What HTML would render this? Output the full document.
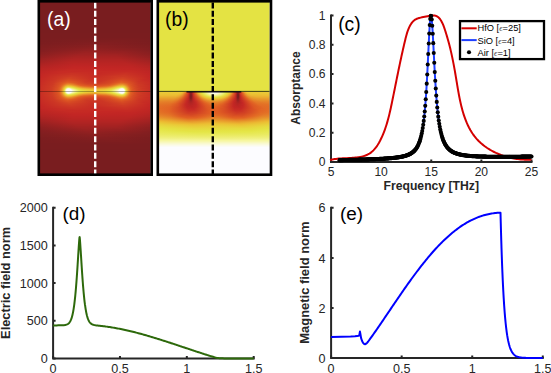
<!DOCTYPE html>
<html><head><meta charset="utf-8"><style>
html,body{margin:0;padding:0;background:#fff;}
body{width:551px;height:373px;overflow:hidden;position:relative;font-family:"Liberation Sans", sans-serif;}
</style></head><body>
<svg width="551" height="373" viewBox="0 0 551 373" style="position:absolute;left:0;top:0;font-family:'Liberation Sans', sans-serif">
<rect width="551" height="373" fill="#fff"/>
<defs><linearGradient id="ga36"><stop offset="0%" stop-color="#7a1d1f"/><stop offset="79.28%" stop-color="#7c1d1f"/><stop offset="100%" stop-color="#7a1d1f"/></linearGradient><linearGradient id="ga37"><stop offset="0%" stop-color="#7b1d1f"/><stop offset="81.08%" stop-color="#7d1d1f"/><stop offset="100%" stop-color="#7b1d1f"/></linearGradient><linearGradient id="ga38"><stop offset="0%" stop-color="#7b1d1f"/><stop offset="69.37%" stop-color="#7f1e1f"/><stop offset="100%" stop-color="#7b1d1f"/></linearGradient><linearGradient id="ga39"><stop offset="0%" stop-color="#7b1d1f"/><stop offset="67.57%" stop-color="#801e1f"/><stop offset="100%" stop-color="#7b1d1f"/></linearGradient><linearGradient id="ga40"><stop offset="0%" stop-color="#7c1d1f"/><stop offset="63.06%" stop-color="#821e20"/><stop offset="100%" stop-color="#7c1d1f"/></linearGradient><linearGradient id="ga41"><stop offset="0%" stop-color="#7c1d1f"/><stop offset="57.66%" stop-color="#841e20"/><stop offset="100%" stop-color="#7c1d1f"/></linearGradient><linearGradient id="ga42"><stop offset="0%" stop-color="#7d1d1f"/><stop offset="57.66%" stop-color="#851e20"/><stop offset="100%" stop-color="#7d1d1f"/></linearGradient><linearGradient id="ga43"><stop offset="0%" stop-color="#7e1e1f"/><stop offset="54.95%" stop-color="#881f20"/><stop offset="100%" stop-color="#7e1e1f"/></linearGradient><linearGradient id="ga44"><stop offset="0%" stop-color="#7f1e1f"/><stop offset="55.86%" stop-color="#8a1f20"/><stop offset="100%" stop-color="#7f1e1f"/></linearGradient><linearGradient id="ga45"><stop offset="0%" stop-color="#801e1f"/><stop offset="50.45%" stop-color="#8c1f20"/><stop offset="96.4%" stop-color="#811e20"/><stop offset="100%" stop-color="#801e1f"/></linearGradient><linearGradient id="ga46"><stop offset="0%" stop-color="#811e20"/><stop offset="48.65%" stop-color="#8f2020"/><stop offset="87.39%" stop-color="#861f20"/><stop offset="100%" stop-color="#811e20"/></linearGradient><linearGradient id="ga47"><stop offset="0%" stop-color="#821e20"/><stop offset="45.95%" stop-color="#922021"/><stop offset="82.88%" stop-color="#8a1f20"/><stop offset="100%" stop-color="#821e20"/></linearGradient><linearGradient id="ga48"><stop offset="0%" stop-color="#841e20"/><stop offset="45.95%" stop-color="#952021"/><stop offset="80.18%" stop-color="#8e1f20"/><stop offset="100%" stop-color="#841e20"/></linearGradient><linearGradient id="ga49"><stop offset="0%" stop-color="#851e20"/><stop offset="41.44%" stop-color="#982121"/><stop offset="73.87%" stop-color="#942021"/><stop offset="100%" stop-color="#861f20"/></linearGradient><linearGradient id="ga50"><stop offset="0%" stop-color="#881f20"/><stop offset="42.34%" stop-color="#9c2121"/><stop offset="76.58%" stop-color="#962021"/><stop offset="100%" stop-color="#881f20"/></linearGradient><linearGradient id="ga51"><stop offset="0%" stop-color="#8a1f20"/><stop offset="40.54%" stop-color="#9f2222"/><stop offset="72.97%" stop-color="#9b2121"/><stop offset="100%" stop-color="#8a1f20"/></linearGradient><linearGradient id="ga52"><stop offset="0%" stop-color="#8c1f20"/><stop offset="35.14%" stop-color="#a12222"/><stop offset="69.37%" stop-color="#a02222"/><stop offset="100%" stop-color="#8c1f20"/></linearGradient><linearGradient id="ga53"><stop offset="0%" stop-color="#8f2020"/><stop offset="33.33%" stop-color="#a42222"/><stop offset="68.47%" stop-color="#a42222"/><stop offset="100%" stop-color="#8f2020"/></linearGradient><linearGradient id="ga54"><stop offset="0%" stop-color="#922021"/><stop offset="34.23%" stop-color="#a82322"/><stop offset="69.37%" stop-color="#a72222"/><stop offset="100%" stop-color="#922021"/></linearGradient><linearGradient id="ga55"><stop offset="0%" stop-color="#952021"/><stop offset="30.63%" stop-color="#aa2322"/><stop offset="70.27%" stop-color="#aa2322"/><stop offset="100%" stop-color="#952021"/></linearGradient><linearGradient id="ga56"><stop offset="0%" stop-color="#992121"/><stop offset="31.53%" stop-color="#ae2323"/><stop offset="71.17%" stop-color="#ad2322"/><stop offset="100%" stop-color="#992121"/></linearGradient><linearGradient id="ga57"><stop offset="0%" stop-color="#9c2121"/><stop offset="28.83%" stop-color="#b02423"/><stop offset="72.07%" stop-color="#b02423"/><stop offset="100%" stop-color="#9c2121"/></linearGradient><linearGradient id="ga58"><stop offset="0%" stop-color="#a02222"/><stop offset="29.73%" stop-color="#b32423"/><stop offset="72.07%" stop-color="#b32423"/><stop offset="100%" stop-color="#a02222"/></linearGradient><linearGradient id="ga59"><stop offset="0%" stop-color="#a32222"/><stop offset="28.83%" stop-color="#b62423"/><stop offset="73.87%" stop-color="#b52423"/><stop offset="100%" stop-color="#a32222"/></linearGradient><linearGradient id="ga60"><stop offset="0%" stop-color="#a62222"/><stop offset="27.03%" stop-color="#b82523"/><stop offset="76.58%" stop-color="#b72423"/><stop offset="100%" stop-color="#a72222"/></linearGradient><linearGradient id="ga61"><stop offset="0%" stop-color="#aa2322"/><stop offset="30.63%" stop-color="#bb2523"/><stop offset="77.48%" stop-color="#b92523"/><stop offset="100%" stop-color="#aa2322"/></linearGradient><linearGradient id="ga62"><stop offset="0%" stop-color="#ad2322"/><stop offset="29.73%" stop-color="#bd2524"/><stop offset="81.08%" stop-color="#ba2523"/><stop offset="100%" stop-color="#ad2322"/></linearGradient><linearGradient id="ga63"><stop offset="0%" stop-color="#b02423"/><stop offset="29.73%" stop-color="#bf2524"/><stop offset="81.98%" stop-color="#bc2523"/><stop offset="100%" stop-color="#b02423"/></linearGradient><linearGradient id="ga64"><stop offset="0%" stop-color="#b32423"/><stop offset="30.63%" stop-color="#c12624"/><stop offset="81.98%" stop-color="#be2524"/><stop offset="100%" stop-color="#b32423"/></linearGradient><linearGradient id="ga65"><stop offset="0%" stop-color="#b62423"/><stop offset="31.53%" stop-color="#c32624"/><stop offset="81.98%" stop-color="#c02524"/><stop offset="100%" stop-color="#b62423"/></linearGradient><linearGradient id="ga66"><stop offset="0%" stop-color="#b82523"/><stop offset="29.73%" stop-color="#c42724"/><stop offset="83.78%" stop-color="#c12624"/><stop offset="100%" stop-color="#b82523"/></linearGradient><linearGradient id="ga67"><stop offset="0%" stop-color="#ba2523"/><stop offset="27.93%" stop-color="#c52924"/><stop offset="85.59%" stop-color="#c22624"/><stop offset="100%" stop-color="#ba2523"/></linearGradient><linearGradient id="ga68"><stop offset="0%" stop-color="#bc2523"/><stop offset="27.93%" stop-color="#c62b24"/><stop offset="58.56%" stop-color="#c52724"/><stop offset="80.18%" stop-color="#c52924"/><stop offset="100%" stop-color="#bc2523"/></linearGradient><linearGradient id="ga69"><stop offset="0%" stop-color="#be2524"/><stop offset="20.72%" stop-color="#c72b24"/><stop offset="37.84%" stop-color="#c62a24"/><stop offset="63.06%" stop-color="#c62a24"/><stop offset="81.98%" stop-color="#c62a24"/><stop offset="100%" stop-color="#be2524"/></linearGradient><linearGradient id="ga70"><stop offset="0%" stop-color="#bf2524"/><stop offset="17.12%" stop-color="#c72b24"/><stop offset="33.33%" stop-color="#c82e24"/><stop offset="55.86%" stop-color="#c62924"/><stop offset="78.38%" stop-color="#c82e24"/><stop offset="95.5%" stop-color="#c12624"/><stop offset="100%" stop-color="#bf2524"/></linearGradient><linearGradient id="ga71"><stop offset="0%" stop-color="#c12624"/><stop offset="14.41%" stop-color="#c62b24"/><stop offset="28.83%" stop-color="#ca3224"/><stop offset="52.25%" stop-color="#c62924"/><stop offset="77.48%" stop-color="#ca3124"/><stop offset="97.3%" stop-color="#c22624"/><stop offset="100%" stop-color="#c12624"/></linearGradient><linearGradient id="ga72"><stop offset="0%" stop-color="#c22624"/><stop offset="18.02%" stop-color="#c93024"/><stop offset="30.63%" stop-color="#cb3424"/><stop offset="52.25%" stop-color="#c62a24"/><stop offset="76.58%" stop-color="#cb3424"/><stop offset="98.2%" stop-color="#c22624"/><stop offset="100%" stop-color="#c22624"/></linearGradient><linearGradient id="ga73"><stop offset="0%" stop-color="#c32624"/><stop offset="16.22%" stop-color="#c93124"/><stop offset="27.93%" stop-color="#cd3824"/><stop offset="50.45%" stop-color="#c72b24"/><stop offset="75.68%" stop-color="#cd3824"/><stop offset="99.1%" stop-color="#c32624"/><stop offset="100%" stop-color="#c32624"/></linearGradient><linearGradient id="ga74"><stop offset="0%" stop-color="#c42624"/><stop offset="18.92%" stop-color="#cc3624"/><stop offset="28.83%" stop-color="#cf3b24"/><stop offset="49.55%" stop-color="#c72c24"/><stop offset="67.57%" stop-color="#cd3824"/><stop offset="77.48%" stop-color="#ce3a24"/><stop offset="97.3%" stop-color="#c52724"/><stop offset="100%" stop-color="#c42624"/></linearGradient><linearGradient id="ga75"><stop offset="0%" stop-color="#c42724"/><stop offset="17.12%" stop-color="#cc3624"/><stop offset="27.03%" stop-color="#d14024"/><stop offset="47.75%" stop-color="#c82e24"/><stop offset="63.06%" stop-color="#cc3524"/><stop offset="74.77%" stop-color="#d14024"/><stop offset="97.3%" stop-color="#c52824"/><stop offset="100%" stop-color="#c42724"/></linearGradient><linearGradient id="ga76"><stop offset="0%" stop-color="#c52824"/><stop offset="15.32%" stop-color="#cc3624"/><stop offset="26.13%" stop-color="#d34423"/><stop offset="47.75%" stop-color="#c92f24"/><stop offset="62.16%" stop-color="#cc3724"/><stop offset="74.77%" stop-color="#d34423"/><stop offset="97.3%" stop-color="#c62924"/><stop offset="100%" stop-color="#c52824"/></linearGradient><linearGradient id="ga77"><stop offset="0%" stop-color="#c52924"/><stop offset="13.51%" stop-color="#cc3524"/><stop offset="26.13%" stop-color="#d64a23"/><stop offset="46.85%" stop-color="#ca3124"/><stop offset="59.46%" stop-color="#cc3624"/><stop offset="74.77%" stop-color="#d64a23"/><stop offset="93.69%" stop-color="#c72c24"/><stop offset="100%" stop-color="#c52924"/></linearGradient><linearGradient id="ga78"><stop offset="0%" stop-color="#c62a24"/><stop offset="12.61%" stop-color="#cc3624"/><stop offset="25.23%" stop-color="#d95023"/><stop offset="32.43%" stop-color="#d44623"/><stop offset="45.05%" stop-color="#cb3424"/><stop offset="56.76%" stop-color="#cc3524"/><stop offset="73.87%" stop-color="#d95023"/><stop offset="81.98%" stop-color="#d24124"/><stop offset="93.69%" stop-color="#c82d24"/><stop offset="100%" stop-color="#c62a24"/></linearGradient><linearGradient id="ga79"><stop offset="0%" stop-color="#c62a24"/><stop offset="13.51%" stop-color="#ce3924"/><stop offset="25.23%" stop-color="#dd5723"/><stop offset="30.63%" stop-color="#da5023"/><stop offset="42.34%" stop-color="#cd3824"/><stop offset="54.95%" stop-color="#cc3624"/><stop offset="65.77%" stop-color="#d54723"/><stop offset="73.87%" stop-color="#dd5823"/><stop offset="80.18%" stop-color="#d74b23"/><stop offset="89.19%" stop-color="#cb3424"/><stop offset="100%" stop-color="#c62a24"/></linearGradient><linearGradient id="ga80"><stop offset="0%" stop-color="#c72b24"/><stop offset="12.61%" stop-color="#ce3924"/><stop offset="25.23%" stop-color="#e16223"/><stop offset="32.43%" stop-color="#da5223"/><stop offset="41.44%" stop-color="#d03d24"/><stop offset="53.15%" stop-color="#cd3824"/><stop offset="63.96%" stop-color="#d54723"/><stop offset="73.87%" stop-color="#e16223"/><stop offset="80.18%" stop-color="#d95023"/><stop offset="89.19%" stop-color="#cc3624"/><stop offset="100%" stop-color="#c72b24"/></linearGradient><linearGradient id="ga81"><stop offset="0%" stop-color="#c72c24"/><stop offset="11.71%" stop-color="#ce3924"/><stop offset="19.82%" stop-color="#dc5523"/><stop offset="22.52%" stop-color="#e26624"/><stop offset="25.23%" stop-color="#e47627"/><stop offset="27.93%" stop-color="#e37326"/><stop offset="34.23%" stop-color="#db5323"/><stop offset="43.24%" stop-color="#d14024"/><stop offset="54.05%" stop-color="#d03e24"/><stop offset="63.06%" stop-color="#d74b23"/><stop offset="69.37%" stop-color="#e16324"/><stop offset="72.97%" stop-color="#e47627"/><stop offset="75.68%" stop-color="#e37326"/><stop offset="81.08%" stop-color="#da5123"/><stop offset="89.19%" stop-color="#cd3724"/><stop offset="100%" stop-color="#c72c24"/></linearGradient><linearGradient id="ga82"><stop offset="0%" stop-color="#c72c24"/><stop offset="11.71%" stop-color="#ce3a24"/><stop offset="18.02%" stop-color="#da5123"/><stop offset="20.72%" stop-color="#e16324"/><stop offset="24.32%" stop-color="#e68c2a"/><stop offset="26.13%" stop-color="#e7922b"/><stop offset="29.73%" stop-color="#e58128"/><stop offset="34.23%" stop-color="#e05d23"/><stop offset="42.34%" stop-color="#d64923"/><stop offset="53.15%" stop-color="#d44523"/><stop offset="62.16%" stop-color="#da5223"/><stop offset="66.67%" stop-color="#e16324"/><stop offset="72.07%" stop-color="#e68d2a"/><stop offset="74.77%" stop-color="#e7912b"/><stop offset="77.48%" stop-color="#e47a27"/><stop offset="80.18%" stop-color="#df5b23"/><stop offset="86.49%" stop-color="#d13f24"/><stop offset="96.4%" stop-color="#c82f24"/><stop offset="100%" stop-color="#c72c24"/></linearGradient><linearGradient id="ga83"><stop offset="0%" stop-color="#c82d24"/><stop offset="10.81%" stop-color="#ce3a24"/><stop offset="17.12%" stop-color="#d95023"/><stop offset="19.82%" stop-color="#e26424"/><stop offset="23.42%" stop-color="#e8a02d"/><stop offset="25.23%" stop-color="#ebb230"/><stop offset="27.93%" stop-color="#eaad2f"/><stop offset="36.94%" stop-color="#e16123"/><stop offset="45.05%" stop-color="#da5123"/><stop offset="55.86%" stop-color="#db5223"/><stop offset="63.06%" stop-color="#e16123"/><stop offset="68.47%" stop-color="#e68e2a"/><stop offset="72.07%" stop-color="#eaad2f"/><stop offset="74.77%" stop-color="#ebb230"/><stop offset="76.58%" stop-color="#e8a02d"/><stop offset="80.18%" stop-color="#e26424"/><stop offset="82.88%" stop-color="#d95023"/><stop offset="89.19%" stop-color="#ce3a24"/><stop offset="100%" stop-color="#c82d24"/></linearGradient><linearGradient id="ga84"><stop offset="0%" stop-color="#c82d24"/><stop offset="11.71%" stop-color="#d03d24"/><stop offset="17.12%" stop-color="#db5323"/><stop offset="18.92%" stop-color="#e16123"/><stop offset="21.62%" stop-color="#e7962c"/><stop offset="23.42%" stop-color="#ecbf33"/><stop offset="25.23%" stop-color="#e8d23b"/><stop offset="27.93%" stop-color="#e9ce39"/><stop offset="30.63%" stop-color="#ecbb31"/><stop offset="35.14%" stop-color="#e68c2a"/><stop offset="39.64%" stop-color="#e37126"/><stop offset="45.95%" stop-color="#e16023"/><stop offset="54.05%" stop-color="#e16023"/><stop offset="60.36%" stop-color="#e37126"/><stop offset="64.86%" stop-color="#e68c2a"/><stop offset="70.27%" stop-color="#ebc334"/><stop offset="73.87%" stop-color="#e8d33c"/><stop offset="75.68%" stop-color="#e9cb38"/><stop offset="76.58%" stop-color="#ecbf33"/><stop offset="80.18%" stop-color="#e37126"/><stop offset="81.08%" stop-color="#e16123"/><stop offset="84.68%" stop-color="#d64a23"/><stop offset="90.99%" stop-color="#cd3724"/><stop offset="100%" stop-color="#c82d24"/></linearGradient><linearGradient id="ga85"><stop offset="0%" stop-color="#c82e24"/><stop offset="9.91%" stop-color="#ce3a24"/><stop offset="15.32%" stop-color="#d74c23"/><stop offset="18.02%" stop-color="#e05d23"/><stop offset="19.82%" stop-color="#e47d28"/><stop offset="22.52%" stop-color="#ebc535"/><stop offset="23.42%" stop-color="#e6d93f"/><stop offset="24.32%" stop-color="#e7e852"/><stop offset="25.23%" stop-color="#ecec6a"/><stop offset="26.13%" stop-color="#eced6d"/><stop offset="29.73%" stop-color="#e5e142"/><stop offset="35.14%" stop-color="#eab030"/><stop offset="38.74%" stop-color="#e7962c"/><stop offset="45.95%" stop-color="#e58028"/><stop offset="52.25%" stop-color="#e57e28"/><stop offset="59.46%" stop-color="#e68e2a"/><stop offset="63.96%" stop-color="#e9a82f"/><stop offset="67.57%" stop-color="#eac937"/><stop offset="70.27%" stop-color="#e5e142"/><stop offset="72.07%" stop-color="#e8e856"/><stop offset="73.87%" stop-color="#eced6d"/><stop offset="74.77%" stop-color="#ecec6b"/><stop offset="75.68%" stop-color="#e7e852"/><stop offset="76.58%" stop-color="#e6d93f"/><stop offset="78.38%" stop-color="#eaac2f"/><stop offset="81.08%" stop-color="#e26a25"/><stop offset="82.88%" stop-color="#dd5623"/><stop offset="88.29%" stop-color="#d03e24"/><stop offset="99.1%" stop-color="#c82e24"/><stop offset="100%" stop-color="#c82e24"/></linearGradient><linearGradient id="ga86"><stop offset="0%" stop-color="#c82e24"/><stop offset="10.81%" stop-color="#cf3d24"/><stop offset="16.22%" stop-color="#db5323"/><stop offset="18.02%" stop-color="#e16123"/><stop offset="19.82%" stop-color="#e68729"/><stop offset="21.62%" stop-color="#ecc033"/><stop offset="22.52%" stop-color="#e6da3f"/><stop offset="23.42%" stop-color="#ebec6a"/><stop offset="24.32%" stop-color="#f7f7ab"/><stop offset="25.23%" stop-color="#fafadc"/><stop offset="26.13%" stop-color="#fafae1"/><stop offset="27.03%" stop-color="#f9f9c8"/><stop offset="27.93%" stop-color="#f6f6a0"/><stop offset="28.83%" stop-color="#f1f187"/><stop offset="32.43%" stop-color="#e4e544"/><stop offset="36.94%" stop-color="#ebc234"/><stop offset="43.24%" stop-color="#e9a72e"/><stop offset="51.35%" stop-color="#e89e2d"/><stop offset="59.46%" stop-color="#eab030"/><stop offset="64.86%" stop-color="#e9ce39"/><stop offset="67.57%" stop-color="#e4e544"/><stop offset="71.17%" stop-color="#f1f187"/><stop offset="72.07%" stop-color="#f6f6a0"/><stop offset="72.97%" stop-color="#f9f9c8"/><stop offset="73.87%" stop-color="#fafae1"/><stop offset="74.77%" stop-color="#fafadd"/><stop offset="75.68%" stop-color="#f7f7ab"/><stop offset="76.58%" stop-color="#ebec6a"/><stop offset="77.48%" stop-color="#e6da3f"/><stop offset="78.38%" stop-color="#ecc033"/><stop offset="80.18%" stop-color="#e68729"/><stop offset="81.98%" stop-color="#e16123"/><stop offset="85.59%" stop-color="#d64923"/><stop offset="92.79%" stop-color="#cc3524"/><stop offset="100%" stop-color="#c82e24"/></linearGradient><linearGradient id="ga87"><stop offset="0%" stop-color="#c82e24"/><stop offset="10.81%" stop-color="#d03d24"/><stop offset="16.22%" stop-color="#db5423"/><stop offset="18.02%" stop-color="#e26524"/><stop offset="19.82%" stop-color="#e7902b"/><stop offset="21.62%" stop-color="#e9cc38"/><stop offset="22.52%" stop-color="#e7e853"/><stop offset="23.42%" stop-color="#f7f7ab"/><stop offset="24.32%" stop-color="#fcfcff"/><stop offset="27.93%" stop-color="#fcfcfc"/><stop offset="28.83%" stop-color="#f8f8c5"/><stop offset="29.73%" stop-color="#f7f7a9"/><stop offset="34.23%" stop-color="#e6e750"/><stop offset="35.14%" stop-color="#e4e443"/><stop offset="39.64%" stop-color="#e9cc38"/><stop offset="48.65%" stop-color="#ecba31"/><stop offset="57.66%" stop-color="#ebc435"/><stop offset="63.06%" stop-color="#e7d83e"/><stop offset="64.86%" stop-color="#e4e443"/><stop offset="67.57%" stop-color="#eded71"/><stop offset="70.27%" stop-color="#f7f7a9"/><stop offset="71.17%" stop-color="#f8f8c5"/><stop offset="72.07%" stop-color="#fcfcfc"/><stop offset="75.68%" stop-color="#fcfcff"/><stop offset="76.58%" stop-color="#f7f7ab"/><stop offset="77.48%" stop-color="#e7e853"/><stop offset="78.38%" stop-color="#e9cc39"/><stop offset="79.28%" stop-color="#eaad2f"/><stop offset="81.08%" stop-color="#e47827"/><stop offset="81.98%" stop-color="#e26524"/><stop offset="83.78%" stop-color="#db5423"/><stop offset="89.19%" stop-color="#d03d24"/><stop offset="100%" stop-color="#c82e24"/></linearGradient><linearGradient id="ga88"><stop offset="0%" stop-color="#c82f24"/><stop offset="9.91%" stop-color="#cf3b24"/><stop offset="15.32%" stop-color="#d94f23"/><stop offset="17.12%" stop-color="#df5b23"/><stop offset="18.02%" stop-color="#e26824"/><stop offset="19.82%" stop-color="#e7942b"/><stop offset="20.72%" stop-color="#ebb430"/><stop offset="21.62%" stop-color="#e8d33c"/><stop offset="22.52%" stop-color="#ecec6a"/><stop offset="23.42%" stop-color="#fafadb"/><stop offset="24.32%" stop-color="#fcfcff"/><stop offset="27.93%" stop-color="#fcfcff"/><stop offset="28.83%" stop-color="#fbfbf0"/><stop offset="29.73%" stop-color="#f9f9cb"/><stop offset="31.53%" stop-color="#f5f59d"/><stop offset="35.14%" stop-color="#e8e95a"/><stop offset="36.94%" stop-color="#e4e444"/><stop offset="43.24%" stop-color="#e9ce39"/><stop offset="51.35%" stop-color="#eac736"/><stop offset="59.46%" stop-color="#e7d53c"/><stop offset="63.06%" stop-color="#e4e444"/><stop offset="64.86%" stop-color="#e8e95a"/><stop offset="68.47%" stop-color="#f5f59d"/><stop offset="70.27%" stop-color="#f9f9cb"/><stop offset="71.17%" stop-color="#fbfbf0"/><stop offset="72.07%" stop-color="#fcfcff"/><stop offset="75.68%" stop-color="#fcfcff"/><stop offset="76.58%" stop-color="#fafadb"/><stop offset="77.48%" stop-color="#ecec6a"/><stop offset="78.38%" stop-color="#e8d33c"/><stop offset="79.28%" stop-color="#ebb430"/><stop offset="80.18%" stop-color="#e7942b"/><stop offset="81.08%" stop-color="#e47b27"/><stop offset="82.88%" stop-color="#df5b23"/><stop offset="87.39%" stop-color="#d34323"/><stop offset="96.4%" stop-color="#ca3124"/><stop offset="100%" stop-color="#c82f24"/></linearGradient><linearGradient id="ga89"><stop offset="0%" stop-color="#c82f24"/><stop offset="9.91%" stop-color="#cf3b24"/><stop offset="15.32%" stop-color="#d94f23"/><stop offset="17.12%" stop-color="#df5b23"/><stop offset="18.02%" stop-color="#e26824"/><stop offset="19.82%" stop-color="#e7942b"/><stop offset="20.72%" stop-color="#ebb430"/><stop offset="21.62%" stop-color="#e8d33c"/><stop offset="22.52%" stop-color="#ecec6a"/><stop offset="23.42%" stop-color="#fafadb"/><stop offset="24.32%" stop-color="#fcfcff"/><stop offset="27.93%" stop-color="#fcfcff"/><stop offset="28.83%" stop-color="#fbfbf0"/><stop offset="29.73%" stop-color="#f9f9cb"/><stop offset="31.53%" stop-color="#f5f59d"/><stop offset="35.14%" stop-color="#e8e95a"/><stop offset="36.94%" stop-color="#e4e444"/><stop offset="43.24%" stop-color="#e9ce39"/><stop offset="51.35%" stop-color="#eac736"/><stop offset="59.46%" stop-color="#e7d53c"/><stop offset="63.06%" stop-color="#e4e444"/><stop offset="64.86%" stop-color="#e8e95a"/><stop offset="68.47%" stop-color="#f5f59d"/><stop offset="70.27%" stop-color="#f9f9cb"/><stop offset="71.17%" stop-color="#fbfbf0"/><stop offset="72.07%" stop-color="#fcfcff"/><stop offset="75.68%" stop-color="#fcfcff"/><stop offset="76.58%" stop-color="#fafadb"/><stop offset="77.48%" stop-color="#ecec6a"/><stop offset="78.38%" stop-color="#e8d33c"/><stop offset="79.28%" stop-color="#ebb430"/><stop offset="80.18%" stop-color="#e7942b"/><stop offset="81.08%" stop-color="#e47b27"/><stop offset="82.88%" stop-color="#df5b23"/><stop offset="87.39%" stop-color="#d34323"/><stop offset="96.4%" stop-color="#ca3124"/><stop offset="100%" stop-color="#c82f24"/></linearGradient><linearGradient id="ga90"><stop offset="0%" stop-color="#c82e24"/><stop offset="10.81%" stop-color="#d03d24"/><stop offset="16.22%" stop-color="#db5423"/><stop offset="18.02%" stop-color="#e26524"/><stop offset="19.82%" stop-color="#e7902b"/><stop offset="21.62%" stop-color="#e9cc38"/><stop offset="22.52%" stop-color="#e7e853"/><stop offset="23.42%" stop-color="#f7f7ab"/><stop offset="24.32%" stop-color="#fcfcff"/><stop offset="27.93%" stop-color="#fcfcfc"/><stop offset="28.83%" stop-color="#f8f8c5"/><stop offset="29.73%" stop-color="#f7f7a9"/><stop offset="34.23%" stop-color="#e6e750"/><stop offset="35.14%" stop-color="#e4e443"/><stop offset="39.64%" stop-color="#e9cc38"/><stop offset="48.65%" stop-color="#ecba31"/><stop offset="57.66%" stop-color="#ebc435"/><stop offset="63.06%" stop-color="#e7d83e"/><stop offset="64.86%" stop-color="#e4e443"/><stop offset="67.57%" stop-color="#eded71"/><stop offset="70.27%" stop-color="#f7f7a9"/><stop offset="71.17%" stop-color="#f8f8c5"/><stop offset="72.07%" stop-color="#fcfcfc"/><stop offset="75.68%" stop-color="#fcfcff"/><stop offset="76.58%" stop-color="#f7f7ab"/><stop offset="77.48%" stop-color="#e7e853"/><stop offset="78.38%" stop-color="#e9cc39"/><stop offset="79.28%" stop-color="#eaad2f"/><stop offset="81.08%" stop-color="#e47827"/><stop offset="81.98%" stop-color="#e26524"/><stop offset="83.78%" stop-color="#db5423"/><stop offset="89.19%" stop-color="#d03d24"/><stop offset="100%" stop-color="#c82e24"/></linearGradient><linearGradient id="ga91"><stop offset="0%" stop-color="#c82e24"/><stop offset="10.81%" stop-color="#cf3d24"/><stop offset="16.22%" stop-color="#db5323"/><stop offset="18.02%" stop-color="#e16123"/><stop offset="19.82%" stop-color="#e68729"/><stop offset="21.62%" stop-color="#ecc033"/><stop offset="22.52%" stop-color="#e6da3f"/><stop offset="23.42%" stop-color="#ebec6a"/><stop offset="24.32%" stop-color="#f7f7ab"/><stop offset="25.23%" stop-color="#fafadc"/><stop offset="26.13%" stop-color="#fafae1"/><stop offset="27.03%" stop-color="#f9f9c8"/><stop offset="27.93%" stop-color="#f6f6a0"/><stop offset="28.83%" stop-color="#f1f187"/><stop offset="32.43%" stop-color="#e4e544"/><stop offset="36.94%" stop-color="#ebc234"/><stop offset="43.24%" stop-color="#e9a72e"/><stop offset="51.35%" stop-color="#e89e2d"/><stop offset="59.46%" stop-color="#eab030"/><stop offset="64.86%" stop-color="#e9ce39"/><stop offset="67.57%" stop-color="#e4e544"/><stop offset="71.17%" stop-color="#f1f187"/><stop offset="72.07%" stop-color="#f6f6a0"/><stop offset="72.97%" stop-color="#f9f9c8"/><stop offset="73.87%" stop-color="#fafae1"/><stop offset="74.77%" stop-color="#fafadd"/><stop offset="75.68%" stop-color="#f7f7ab"/><stop offset="76.58%" stop-color="#ebec6a"/><stop offset="77.48%" stop-color="#e6da3f"/><stop offset="78.38%" stop-color="#ecc033"/><stop offset="80.18%" stop-color="#e68729"/><stop offset="81.98%" stop-color="#e16123"/><stop offset="85.59%" stop-color="#d64923"/><stop offset="92.79%" stop-color="#cc3524"/><stop offset="100%" stop-color="#c82e24"/></linearGradient><linearGradient id="ga92"><stop offset="0%" stop-color="#c82e24"/><stop offset="9.91%" stop-color="#ce3a24"/><stop offset="15.32%" stop-color="#d74c23"/><stop offset="18.02%" stop-color="#e05d23"/><stop offset="19.82%" stop-color="#e47d28"/><stop offset="22.52%" stop-color="#ebc535"/><stop offset="23.42%" stop-color="#e6d93f"/><stop offset="24.32%" stop-color="#e7e852"/><stop offset="25.23%" stop-color="#ecec6a"/><stop offset="26.13%" stop-color="#eced6d"/><stop offset="29.73%" stop-color="#e5e142"/><stop offset="35.14%" stop-color="#eab030"/><stop offset="38.74%" stop-color="#e7962c"/><stop offset="45.95%" stop-color="#e58028"/><stop offset="52.25%" stop-color="#e57e28"/><stop offset="59.46%" stop-color="#e68e2a"/><stop offset="63.96%" stop-color="#e9a82f"/><stop offset="67.57%" stop-color="#eac937"/><stop offset="70.27%" stop-color="#e5e142"/><stop offset="72.07%" stop-color="#e8e856"/><stop offset="73.87%" stop-color="#eced6d"/><stop offset="74.77%" stop-color="#ecec6b"/><stop offset="75.68%" stop-color="#e7e852"/><stop offset="76.58%" stop-color="#e6d93f"/><stop offset="78.38%" stop-color="#eaac2f"/><stop offset="81.08%" stop-color="#e26a25"/><stop offset="82.88%" stop-color="#dd5623"/><stop offset="88.29%" stop-color="#d03e24"/><stop offset="99.1%" stop-color="#c82e24"/><stop offset="100%" stop-color="#c82e24"/></linearGradient><linearGradient id="ga93"><stop offset="0%" stop-color="#c82d24"/><stop offset="11.71%" stop-color="#d03d24"/><stop offset="17.12%" stop-color="#db5323"/><stop offset="18.92%" stop-color="#e16123"/><stop offset="21.62%" stop-color="#e7962c"/><stop offset="23.42%" stop-color="#ecbf33"/><stop offset="25.23%" stop-color="#e8d23b"/><stop offset="27.93%" stop-color="#e9ce39"/><stop offset="30.63%" stop-color="#ecbb31"/><stop offset="35.14%" stop-color="#e68c2a"/><stop offset="39.64%" stop-color="#e37126"/><stop offset="45.95%" stop-color="#e16023"/><stop offset="54.05%" stop-color="#e16023"/><stop offset="60.36%" stop-color="#e37126"/><stop offset="64.86%" stop-color="#e68c2a"/><stop offset="70.27%" stop-color="#ebc334"/><stop offset="73.87%" stop-color="#e8d33c"/><stop offset="75.68%" stop-color="#e9cb38"/><stop offset="76.58%" stop-color="#ecbf33"/><stop offset="80.18%" stop-color="#e37126"/><stop offset="81.08%" stop-color="#e16123"/><stop offset="84.68%" stop-color="#d64a23"/><stop offset="90.99%" stop-color="#cd3724"/><stop offset="100%" stop-color="#c82d24"/></linearGradient><linearGradient id="ga94"><stop offset="0%" stop-color="#c82d24"/><stop offset="10.81%" stop-color="#ce3a24"/><stop offset="17.12%" stop-color="#d95023"/><stop offset="19.82%" stop-color="#e26424"/><stop offset="23.42%" stop-color="#e8a02d"/><stop offset="25.23%" stop-color="#ebb230"/><stop offset="27.93%" stop-color="#eaad2f"/><stop offset="36.94%" stop-color="#e16123"/><stop offset="45.05%" stop-color="#da5123"/><stop offset="55.86%" stop-color="#db5223"/><stop offset="63.06%" stop-color="#e16123"/><stop offset="68.47%" stop-color="#e68e2a"/><stop offset="72.07%" stop-color="#eaad2f"/><stop offset="74.77%" stop-color="#ebb230"/><stop offset="76.58%" stop-color="#e8a02d"/><stop offset="80.18%" stop-color="#e26424"/><stop offset="82.88%" stop-color="#d95023"/><stop offset="89.19%" stop-color="#ce3a24"/><stop offset="100%" stop-color="#c82d24"/></linearGradient><linearGradient id="ga95"><stop offset="0%" stop-color="#c72c24"/><stop offset="11.71%" stop-color="#ce3a24"/><stop offset="18.02%" stop-color="#da5123"/><stop offset="20.72%" stop-color="#e16324"/><stop offset="24.32%" stop-color="#e68c2a"/><stop offset="26.13%" stop-color="#e7922b"/><stop offset="29.73%" stop-color="#e58128"/><stop offset="34.23%" stop-color="#e05d23"/><stop offset="42.34%" stop-color="#d64923"/><stop offset="53.15%" stop-color="#d44523"/><stop offset="62.16%" stop-color="#da5223"/><stop offset="66.67%" stop-color="#e16324"/><stop offset="72.07%" stop-color="#e68d2a"/><stop offset="74.77%" stop-color="#e7912b"/><stop offset="77.48%" stop-color="#e47a27"/><stop offset="80.18%" stop-color="#df5b23"/><stop offset="86.49%" stop-color="#d13f24"/><stop offset="96.4%" stop-color="#c82f24"/><stop offset="100%" stop-color="#c72c24"/></linearGradient><linearGradient id="ga96"><stop offset="0%" stop-color="#c72c24"/><stop offset="11.71%" stop-color="#ce3924"/><stop offset="19.82%" stop-color="#dc5523"/><stop offset="22.52%" stop-color="#e26624"/><stop offset="25.23%" stop-color="#e47627"/><stop offset="27.93%" stop-color="#e37326"/><stop offset="34.23%" stop-color="#db5323"/><stop offset="43.24%" stop-color="#d14024"/><stop offset="54.05%" stop-color="#d03e24"/><stop offset="63.06%" stop-color="#d74b23"/><stop offset="69.37%" stop-color="#e16324"/><stop offset="72.97%" stop-color="#e47627"/><stop offset="75.68%" stop-color="#e37326"/><stop offset="81.08%" stop-color="#da5123"/><stop offset="89.19%" stop-color="#cd3724"/><stop offset="100%" stop-color="#c72c24"/></linearGradient><linearGradient id="ga97"><stop offset="0%" stop-color="#c72b24"/><stop offset="12.61%" stop-color="#ce3924"/><stop offset="25.23%" stop-color="#e16223"/><stop offset="32.43%" stop-color="#da5223"/><stop offset="41.44%" stop-color="#d03d24"/><stop offset="53.15%" stop-color="#cd3824"/><stop offset="63.96%" stop-color="#d54723"/><stop offset="73.87%" stop-color="#e16223"/><stop offset="80.18%" stop-color="#d95023"/><stop offset="89.19%" stop-color="#cc3624"/><stop offset="100%" stop-color="#c72b24"/></linearGradient><linearGradient id="ga98"><stop offset="0%" stop-color="#c62a24"/><stop offset="13.51%" stop-color="#ce3924"/><stop offset="25.23%" stop-color="#dd5723"/><stop offset="30.63%" stop-color="#da5023"/><stop offset="42.34%" stop-color="#cd3824"/><stop offset="54.95%" stop-color="#cc3624"/><stop offset="65.77%" stop-color="#d54723"/><stop offset="73.87%" stop-color="#dd5823"/><stop offset="80.18%" stop-color="#d74b23"/><stop offset="89.19%" stop-color="#cb3424"/><stop offset="100%" stop-color="#c62a24"/></linearGradient><linearGradient id="ga99"><stop offset="0%" stop-color="#c62a24"/><stop offset="12.61%" stop-color="#cc3624"/><stop offset="25.23%" stop-color="#d95023"/><stop offset="32.43%" stop-color="#d44623"/><stop offset="45.05%" stop-color="#cb3424"/><stop offset="56.76%" stop-color="#cc3524"/><stop offset="73.87%" stop-color="#d95023"/><stop offset="81.98%" stop-color="#d24124"/><stop offset="93.69%" stop-color="#c82d24"/><stop offset="100%" stop-color="#c62a24"/></linearGradient><linearGradient id="ga100"><stop offset="0%" stop-color="#c52924"/><stop offset="13.51%" stop-color="#cc3524"/><stop offset="26.13%" stop-color="#d64a23"/><stop offset="46.85%" stop-color="#ca3124"/><stop offset="59.46%" stop-color="#cc3624"/><stop offset="74.77%" stop-color="#d64a23"/><stop offset="93.69%" stop-color="#c72c24"/><stop offset="100%" stop-color="#c52924"/></linearGradient><linearGradient id="ga101"><stop offset="0%" stop-color="#c52824"/><stop offset="15.32%" stop-color="#cc3624"/><stop offset="26.13%" stop-color="#d34423"/><stop offset="47.75%" stop-color="#c92f24"/><stop offset="62.16%" stop-color="#cc3724"/><stop offset="74.77%" stop-color="#d34423"/><stop offset="97.3%" stop-color="#c62924"/><stop offset="100%" stop-color="#c52824"/></linearGradient><linearGradient id="ga102"><stop offset="0%" stop-color="#c42724"/><stop offset="17.12%" stop-color="#cc3624"/><stop offset="27.03%" stop-color="#d14024"/><stop offset="47.75%" stop-color="#c82e24"/><stop offset="63.06%" stop-color="#cc3524"/><stop offset="74.77%" stop-color="#d14024"/><stop offset="97.3%" stop-color="#c52824"/><stop offset="100%" stop-color="#c42724"/></linearGradient><linearGradient id="ga103"><stop offset="0%" stop-color="#c42624"/><stop offset="18.92%" stop-color="#cc3624"/><stop offset="28.83%" stop-color="#cf3b24"/><stop offset="49.55%" stop-color="#c72c24"/><stop offset="67.57%" stop-color="#cd3824"/><stop offset="77.48%" stop-color="#ce3a24"/><stop offset="97.3%" stop-color="#c52724"/><stop offset="100%" stop-color="#c42624"/></linearGradient><linearGradient id="ga104"><stop offset="0%" stop-color="#c32624"/><stop offset="16.22%" stop-color="#c93124"/><stop offset="27.93%" stop-color="#cd3824"/><stop offset="50.45%" stop-color="#c72b24"/><stop offset="75.68%" stop-color="#cd3824"/><stop offset="99.1%" stop-color="#c32624"/><stop offset="100%" stop-color="#c32624"/></linearGradient><linearGradient id="ga105"><stop offset="0%" stop-color="#c22624"/><stop offset="18.02%" stop-color="#c93024"/><stop offset="30.63%" stop-color="#cb3424"/><stop offset="52.25%" stop-color="#c62a24"/><stop offset="76.58%" stop-color="#cb3424"/><stop offset="98.2%" stop-color="#c22624"/><stop offset="100%" stop-color="#c22624"/></linearGradient><linearGradient id="ga106"><stop offset="0%" stop-color="#c12624"/><stop offset="14.41%" stop-color="#c62b24"/><stop offset="28.83%" stop-color="#ca3224"/><stop offset="52.25%" stop-color="#c62924"/><stop offset="77.48%" stop-color="#ca3124"/><stop offset="97.3%" stop-color="#c22624"/><stop offset="100%" stop-color="#c12624"/></linearGradient><linearGradient id="ga107"><stop offset="0%" stop-color="#bf2524"/><stop offset="17.12%" stop-color="#c72b24"/><stop offset="33.33%" stop-color="#c82e24"/><stop offset="55.86%" stop-color="#c62924"/><stop offset="78.38%" stop-color="#c82e24"/><stop offset="95.5%" stop-color="#c12624"/><stop offset="100%" stop-color="#bf2524"/></linearGradient><linearGradient id="ga108"><stop offset="0%" stop-color="#be2524"/><stop offset="20.72%" stop-color="#c72b24"/><stop offset="37.84%" stop-color="#c62a24"/><stop offset="63.06%" stop-color="#c62a24"/><stop offset="81.98%" stop-color="#c62a24"/><stop offset="100%" stop-color="#be2524"/></linearGradient><linearGradient id="ga109"><stop offset="0%" stop-color="#bc2523"/><stop offset="27.93%" stop-color="#c62b24"/><stop offset="58.56%" stop-color="#c52724"/><stop offset="80.18%" stop-color="#c52924"/><stop offset="100%" stop-color="#bc2523"/></linearGradient><linearGradient id="ga110"><stop offset="0%" stop-color="#ba2523"/><stop offset="27.93%" stop-color="#c52924"/><stop offset="85.59%" stop-color="#c22624"/><stop offset="100%" stop-color="#ba2523"/></linearGradient><linearGradient id="ga111"><stop offset="0%" stop-color="#b82523"/><stop offset="29.73%" stop-color="#c42724"/><stop offset="83.78%" stop-color="#c12624"/><stop offset="100%" stop-color="#b82523"/></linearGradient><linearGradient id="ga112"><stop offset="0%" stop-color="#b62423"/><stop offset="31.53%" stop-color="#c32624"/><stop offset="81.98%" stop-color="#c02524"/><stop offset="100%" stop-color="#b62423"/></linearGradient><linearGradient id="ga113"><stop offset="0%" stop-color="#b32423"/><stop offset="30.63%" stop-color="#c12624"/><stop offset="81.98%" stop-color="#be2524"/><stop offset="100%" stop-color="#b32423"/></linearGradient><linearGradient id="ga114"><stop offset="0%" stop-color="#b02423"/><stop offset="29.73%" stop-color="#bf2524"/><stop offset="81.98%" stop-color="#bc2523"/><stop offset="100%" stop-color="#b02423"/></linearGradient><linearGradient id="ga115"><stop offset="0%" stop-color="#ad2322"/><stop offset="29.73%" stop-color="#bd2524"/><stop offset="81.08%" stop-color="#ba2523"/><stop offset="100%" stop-color="#ad2322"/></linearGradient><linearGradient id="ga116"><stop offset="0%" stop-color="#aa2322"/><stop offset="30.63%" stop-color="#bb2523"/><stop offset="77.48%" stop-color="#b92523"/><stop offset="100%" stop-color="#aa2322"/></linearGradient><linearGradient id="ga117"><stop offset="0%" stop-color="#a62222"/><stop offset="27.03%" stop-color="#b82523"/><stop offset="76.58%" stop-color="#b72423"/><stop offset="100%" stop-color="#a72222"/></linearGradient><linearGradient id="ga118"><stop offset="0%" stop-color="#a32222"/><stop offset="28.83%" stop-color="#b62423"/><stop offset="73.87%" stop-color="#b52423"/><stop offset="100%" stop-color="#a32222"/></linearGradient><linearGradient id="ga119"><stop offset="0%" stop-color="#a02222"/><stop offset="29.73%" stop-color="#b32423"/><stop offset="72.07%" stop-color="#b32423"/><stop offset="100%" stop-color="#a02222"/></linearGradient><linearGradient id="ga120"><stop offset="0%" stop-color="#9c2121"/><stop offset="28.83%" stop-color="#b02423"/><stop offset="72.07%" stop-color="#b02423"/><stop offset="100%" stop-color="#9c2121"/></linearGradient><linearGradient id="ga121"><stop offset="0%" stop-color="#992121"/><stop offset="31.53%" stop-color="#ae2323"/><stop offset="71.17%" stop-color="#ad2322"/><stop offset="100%" stop-color="#992121"/></linearGradient><linearGradient id="ga122"><stop offset="0%" stop-color="#952021"/><stop offset="30.63%" stop-color="#aa2322"/><stop offset="70.27%" stop-color="#aa2322"/><stop offset="100%" stop-color="#952021"/></linearGradient><linearGradient id="ga123"><stop offset="0%" stop-color="#922021"/><stop offset="34.23%" stop-color="#a82322"/><stop offset="69.37%" stop-color="#a72222"/><stop offset="100%" stop-color="#922021"/></linearGradient><linearGradient id="ga124"><stop offset="0%" stop-color="#8f2020"/><stop offset="33.33%" stop-color="#a42222"/><stop offset="68.47%" stop-color="#a42222"/><stop offset="100%" stop-color="#8f2020"/></linearGradient><linearGradient id="ga125"><stop offset="0%" stop-color="#8c1f20"/><stop offset="35.14%" stop-color="#a12222"/><stop offset="69.37%" stop-color="#a02222"/><stop offset="100%" stop-color="#8c1f20"/></linearGradient><linearGradient id="ga126"><stop offset="0%" stop-color="#8a1f20"/><stop offset="40.54%" stop-color="#9f2222"/><stop offset="72.97%" stop-color="#9b2121"/><stop offset="100%" stop-color="#8a1f20"/></linearGradient><linearGradient id="ga127"><stop offset="0%" stop-color="#881f20"/><stop offset="42.34%" stop-color="#9c2121"/><stop offset="76.58%" stop-color="#962021"/><stop offset="100%" stop-color="#881f20"/></linearGradient><linearGradient id="ga128"><stop offset="0%" stop-color="#851e20"/><stop offset="41.44%" stop-color="#982121"/><stop offset="73.87%" stop-color="#942021"/><stop offset="100%" stop-color="#861f20"/></linearGradient><linearGradient id="ga129"><stop offset="0%" stop-color="#841e20"/><stop offset="45.95%" stop-color="#952021"/><stop offset="80.18%" stop-color="#8e1f20"/><stop offset="100%" stop-color="#841e20"/></linearGradient><linearGradient id="ga130"><stop offset="0%" stop-color="#821e20"/><stop offset="45.95%" stop-color="#922021"/><stop offset="82.88%" stop-color="#8a1f20"/><stop offset="100%" stop-color="#821e20"/></linearGradient><linearGradient id="ga131"><stop offset="0%" stop-color="#811e20"/><stop offset="48.65%" stop-color="#8f2020"/><stop offset="87.39%" stop-color="#861f20"/><stop offset="100%" stop-color="#811e20"/></linearGradient><linearGradient id="ga132"><stop offset="0%" stop-color="#801e1f"/><stop offset="50.45%" stop-color="#8c1f20"/><stop offset="96.4%" stop-color="#811e20"/><stop offset="100%" stop-color="#801e1f"/></linearGradient><linearGradient id="ga133"><stop offset="0%" stop-color="#7f1e1f"/><stop offset="55.86%" stop-color="#8a1f20"/><stop offset="100%" stop-color="#7f1e1f"/></linearGradient><linearGradient id="ga134"><stop offset="0%" stop-color="#7e1e1f"/><stop offset="54.95%" stop-color="#881f20"/><stop offset="100%" stop-color="#7e1e1f"/></linearGradient><linearGradient id="ga135"><stop offset="0%" stop-color="#7d1d1f"/><stop offset="57.66%" stop-color="#851e20"/><stop offset="100%" stop-color="#7d1d1f"/></linearGradient><linearGradient id="ga136"><stop offset="0%" stop-color="#7c1d1f"/><stop offset="57.66%" stop-color="#841e20"/><stop offset="100%" stop-color="#7c1d1f"/></linearGradient><linearGradient id="ga137"><stop offset="0%" stop-color="#7c1d1f"/><stop offset="63.06%" stop-color="#821e20"/><stop offset="100%" stop-color="#7c1d1f"/></linearGradient><linearGradient id="ga138"><stop offset="0%" stop-color="#7b1d1f"/><stop offset="67.57%" stop-color="#801e1f"/><stop offset="100%" stop-color="#7b1d1f"/></linearGradient><linearGradient id="ga139"><stop offset="0%" stop-color="#7b1d1f"/><stop offset="69.37%" stop-color="#7f1e1f"/><stop offset="100%" stop-color="#7b1d1f"/></linearGradient><linearGradient id="ga140"><stop offset="0%" stop-color="#7b1d1f"/><stop offset="81.08%" stop-color="#7d1d1f"/><stop offset="100%" stop-color="#7b1d1f"/></linearGradient><linearGradient id="ga141"><stop offset="0%" stop-color="#7a1d1f"/><stop offset="79.28%" stop-color="#7c1d1f"/><stop offset="100%" stop-color="#7a1d1f"/></linearGradient></defs><rect x="40" y="2" width="110.5" height="1.6" fill="#791d1f"/><rect x="40" y="3" width="110.5" height="1.6" fill="#791d1f"/><rect x="40" y="4" width="110.5" height="1.6" fill="#791d1f"/><rect x="40" y="5" width="110.5" height="1.6" fill="#791d1f"/><rect x="40" y="6" width="110.5" height="1.6" fill="#791d1f"/><rect x="40" y="7" width="110.5" height="1.6" fill="#791d1f"/><rect x="40" y="8" width="110.5" height="1.6" fill="#791d1f"/><rect x="40" y="9" width="110.5" height="1.6" fill="#791d1f"/><rect x="40" y="10" width="110.5" height="1.6" fill="#791d1f"/><rect x="40" y="11" width="110.5" height="1.6" fill="#791d1f"/><rect x="40" y="12" width="110.5" height="1.6" fill="#791d1f"/><rect x="40" y="13" width="110.5" height="1.6" fill="#791d1f"/><rect x="40" y="14" width="110.5" height="1.6" fill="#791d1f"/><rect x="40" y="15" width="110.5" height="1.6" fill="#791d1f"/><rect x="40" y="16" width="110.5" height="1.6" fill="#791d1f"/><rect x="40" y="17" width="110.5" height="1.6" fill="#791d1f"/><rect x="40" y="18" width="110.5" height="1.6" fill="#791d1f"/><rect x="40" y="19" width="110.5" height="1.6" fill="#791d1f"/><rect x="40" y="20" width="110.5" height="1.6" fill="#791d1f"/><rect x="40" y="21" width="110.5" height="1.6" fill="#791d1f"/><rect x="40" y="22" width="110.5" height="1.6" fill="#791d1f"/><rect x="40" y="23" width="110.5" height="1.6" fill="#791d1f"/><rect x="40" y="24" width="110.5" height="1.6" fill="#791d1f"/><rect x="40" y="25" width="110.5" height="1.6" fill="#791d1f"/><rect x="40" y="26" width="110.5" height="1.6" fill="#791d1f"/><rect x="40" y="27" width="110.5" height="1.6" fill="#791d1f"/><rect x="40" y="28" width="110.5" height="1.6" fill="#791d1f"/><rect x="40" y="29" width="110.5" height="1.6" fill="#791d1f"/><rect x="40" y="30" width="110.5" height="1.6" fill="#791d1f"/><rect x="40" y="31" width="110.5" height="1.6" fill="#791d1f"/><rect x="40" y="32" width="110.5" height="1.6" fill="#791d1f"/><rect x="40" y="33" width="110.5" height="1.6" fill="#7a1d1f"/><rect x="40" y="34" width="110.5" height="1.6" fill="#7a1d1f"/><rect x="40" y="35" width="110.5" height="1.6" fill="#7a1d1f"/><rect x="40" y="36" width="110.5" height="1.6" fill="#7a1d1f"/><rect x="40" y="37" width="110.5" height="1.6" fill="#7a1d1f"/><rect x="40" y="38" width="110.5" height="1.6" fill="url(#ga36)"/><rect x="40" y="39" width="110.5" height="1.6" fill="url(#ga37)"/><rect x="40" y="40" width="110.5" height="1.6" fill="url(#ga38)"/><rect x="40" y="41" width="110.5" height="1.6" fill="url(#ga39)"/><rect x="40" y="42" width="110.5" height="1.6" fill="url(#ga40)"/><rect x="40" y="43" width="110.5" height="1.6" fill="url(#ga41)"/><rect x="40" y="44" width="110.5" height="1.6" fill="url(#ga42)"/><rect x="40" y="45" width="110.5" height="1.6" fill="url(#ga43)"/><rect x="40" y="46" width="110.5" height="1.6" fill="url(#ga44)"/><rect x="40" y="47" width="110.5" height="1.6" fill="url(#ga45)"/><rect x="40" y="48" width="110.5" height="1.6" fill="url(#ga46)"/><rect x="40" y="49" width="110.5" height="1.6" fill="url(#ga47)"/><rect x="40" y="50" width="110.5" height="1.6" fill="url(#ga48)"/><rect x="40" y="51" width="110.5" height="1.6" fill="url(#ga49)"/><rect x="40" y="52" width="110.5" height="1.6" fill="url(#ga50)"/><rect x="40" y="53" width="110.5" height="1.6" fill="url(#ga51)"/><rect x="40" y="54" width="110.5" height="1.6" fill="url(#ga52)"/><rect x="40" y="55" width="110.5" height="1.6" fill="url(#ga53)"/><rect x="40" y="56" width="110.5" height="1.6" fill="url(#ga54)"/><rect x="40" y="57" width="110.5" height="1.6" fill="url(#ga55)"/><rect x="40" y="58" width="110.5" height="1.6" fill="url(#ga56)"/><rect x="40" y="59" width="110.5" height="1.6" fill="url(#ga57)"/><rect x="40" y="60" width="110.5" height="1.6" fill="url(#ga58)"/><rect x="40" y="61" width="110.5" height="1.6" fill="url(#ga59)"/><rect x="40" y="62" width="110.5" height="1.6" fill="url(#ga60)"/><rect x="40" y="63" width="110.5" height="1.6" fill="url(#ga61)"/><rect x="40" y="64" width="110.5" height="1.6" fill="url(#ga62)"/><rect x="40" y="65" width="110.5" height="1.6" fill="url(#ga63)"/><rect x="40" y="66" width="110.5" height="1.6" fill="url(#ga64)"/><rect x="40" y="67" width="110.5" height="1.6" fill="url(#ga65)"/><rect x="40" y="68" width="110.5" height="1.6" fill="url(#ga66)"/><rect x="40" y="69" width="110.5" height="1.6" fill="url(#ga67)"/><rect x="40" y="70" width="110.5" height="1.6" fill="url(#ga68)"/><rect x="40" y="71" width="110.5" height="1.6" fill="url(#ga69)"/><rect x="40" y="72" width="110.5" height="1.6" fill="url(#ga70)"/><rect x="40" y="73" width="110.5" height="1.6" fill="url(#ga71)"/><rect x="40" y="74" width="110.5" height="1.6" fill="url(#ga72)"/><rect x="40" y="75" width="110.5" height="1.6" fill="url(#ga73)"/><rect x="40" y="76" width="110.5" height="1.6" fill="url(#ga74)"/><rect x="40" y="77" width="110.5" height="1.6" fill="url(#ga75)"/><rect x="40" y="78" width="110.5" height="1.6" fill="url(#ga76)"/><rect x="40" y="79" width="110.5" height="1.6" fill="url(#ga77)"/><rect x="40" y="80" width="110.5" height="1.6" fill="url(#ga78)"/><rect x="40" y="81" width="110.5" height="1.6" fill="url(#ga79)"/><rect x="40" y="82" width="110.5" height="1.6" fill="url(#ga80)"/><rect x="40" y="83" width="110.5" height="1.6" fill="url(#ga81)"/><rect x="40" y="84" width="110.5" height="1.6" fill="url(#ga82)"/><rect x="40" y="85" width="110.5" height="1.6" fill="url(#ga83)"/><rect x="40" y="86" width="110.5" height="1.6" fill="url(#ga84)"/><rect x="40" y="87" width="110.5" height="1.6" fill="url(#ga85)"/><rect x="40" y="88" width="110.5" height="1.6" fill="url(#ga86)"/><rect x="40" y="89" width="110.5" height="1.6" fill="url(#ga87)"/><rect x="40" y="90" width="110.5" height="1.6" fill="url(#ga88)"/><rect x="40" y="91" width="110.5" height="1.6" fill="url(#ga89)"/><rect x="40" y="92" width="110.5" height="1.6" fill="url(#ga90)"/><rect x="40" y="93" width="110.5" height="1.6" fill="url(#ga91)"/><rect x="40" y="94" width="110.5" height="1.6" fill="url(#ga92)"/><rect x="40" y="95" width="110.5" height="1.6" fill="url(#ga93)"/><rect x="40" y="96" width="110.5" height="1.6" fill="url(#ga94)"/><rect x="40" y="97" width="110.5" height="1.6" fill="url(#ga95)"/><rect x="40" y="98" width="110.5" height="1.6" fill="url(#ga96)"/><rect x="40" y="99" width="110.5" height="1.6" fill="url(#ga97)"/><rect x="40" y="100" width="110.5" height="1.6" fill="url(#ga98)"/><rect x="40" y="101" width="110.5" height="1.6" fill="url(#ga99)"/><rect x="40" y="102" width="110.5" height="1.6" fill="url(#ga100)"/><rect x="40" y="103" width="110.5" height="1.6" fill="url(#ga101)"/><rect x="40" y="104" width="110.5" height="1.6" fill="url(#ga102)"/><rect x="40" y="105" width="110.5" height="1.6" fill="url(#ga103)"/><rect x="40" y="106" width="110.5" height="1.6" fill="url(#ga104)"/><rect x="40" y="107" width="110.5" height="1.6" fill="url(#ga105)"/><rect x="40" y="108" width="110.5" height="1.6" fill="url(#ga106)"/><rect x="40" y="109" width="110.5" height="1.6" fill="url(#ga107)"/><rect x="40" y="110" width="110.5" height="1.6" fill="url(#ga108)"/><rect x="40" y="111" width="110.5" height="1.6" fill="url(#ga109)"/><rect x="40" y="112" width="110.5" height="1.6" fill="url(#ga110)"/><rect x="40" y="113" width="110.5" height="1.6" fill="url(#ga111)"/><rect x="40" y="114" width="110.5" height="1.6" fill="url(#ga112)"/><rect x="40" y="115" width="110.5" height="1.6" fill="url(#ga113)"/><rect x="40" y="116" width="110.5" height="1.6" fill="url(#ga114)"/><rect x="40" y="117" width="110.5" height="1.6" fill="url(#ga115)"/><rect x="40" y="118" width="110.5" height="1.6" fill="url(#ga116)"/><rect x="40" y="119" width="110.5" height="1.6" fill="url(#ga117)"/><rect x="40" y="120" width="110.5" height="1.6" fill="url(#ga118)"/><rect x="40" y="121" width="110.5" height="1.6" fill="url(#ga119)"/><rect x="40" y="122" width="110.5" height="1.6" fill="url(#ga120)"/><rect x="40" y="123" width="110.5" height="1.6" fill="url(#ga121)"/><rect x="40" y="124" width="110.5" height="1.6" fill="url(#ga122)"/><rect x="40" y="125" width="110.5" height="1.6" fill="url(#ga123)"/><rect x="40" y="126" width="110.5" height="1.6" fill="url(#ga124)"/><rect x="40" y="127" width="110.5" height="1.6" fill="url(#ga125)"/><rect x="40" y="128" width="110.5" height="1.6" fill="url(#ga126)"/><rect x="40" y="129" width="110.5" height="1.6" fill="url(#ga127)"/><rect x="40" y="130" width="110.5" height="1.6" fill="url(#ga128)"/><rect x="40" y="131" width="110.5" height="1.6" fill="url(#ga129)"/><rect x="40" y="132" width="110.5" height="1.6" fill="url(#ga130)"/><rect x="40" y="133" width="110.5" height="1.6" fill="url(#ga131)"/><rect x="40" y="134" width="110.5" height="1.6" fill="url(#ga132)"/><rect x="40" y="135" width="110.5" height="1.6" fill="url(#ga133)"/><rect x="40" y="136" width="110.5" height="1.6" fill="url(#ga134)"/><rect x="40" y="137" width="110.5" height="1.6" fill="url(#ga135)"/><rect x="40" y="138" width="110.5" height="1.6" fill="url(#ga136)"/><rect x="40" y="139" width="110.5" height="1.6" fill="url(#ga137)"/><rect x="40" y="140" width="110.5" height="1.6" fill="url(#ga138)"/><rect x="40" y="141" width="110.5" height="1.6" fill="url(#ga139)"/><rect x="40" y="142" width="110.5" height="1.6" fill="url(#ga140)"/><rect x="40" y="143" width="110.5" height="1.6" fill="url(#ga141)"/><rect x="40" y="144" width="110.5" height="1.6" fill="#7a1d1f"/><rect x="40" y="145" width="110.5" height="1.6" fill="#7a1d1f"/><rect x="40" y="146" width="110.5" height="1.6" fill="#7a1d1f"/><rect x="40" y="147" width="110.5" height="1.6" fill="#7a1d1f"/><rect x="40" y="148" width="110.5" height="1.6" fill="#7a1d1f"/><rect x="40" y="149" width="110.5" height="1.6" fill="#791d1f"/><rect x="40" y="150" width="110.5" height="1.6" fill="#791d1f"/><rect x="40" y="151" width="110.5" height="1.6" fill="#791d1f"/><rect x="40" y="152" width="110.5" height="1.6" fill="#791d1f"/><rect x="40" y="153" width="110.5" height="1.6" fill="#791d1f"/><rect x="40" y="154" width="110.5" height="1.6" fill="#791d1f"/><rect x="40" y="155" width="110.5" height="1.6" fill="#791d1f"/><rect x="40" y="156" width="110.5" height="1.6" fill="#791d1f"/><rect x="40" y="157" width="110.5" height="1.6" fill="#791d1f"/><rect x="40" y="158" width="110.5" height="1.6" fill="#791d1f"/><rect x="40" y="159" width="110.5" height="1.6" fill="#791d1f"/><rect x="40" y="160" width="110.5" height="1.6" fill="#791d1f"/><rect x="40" y="161" width="110.5" height="1.6" fill="#791d1f"/><rect x="40" y="162" width="110.5" height="1.6" fill="#791d1f"/><rect x="40" y="163" width="110.5" height="1.6" fill="#791d1f"/><rect x="40" y="164" width="110.5" height="1.6" fill="#791d1f"/><rect x="40" y="165" width="110.5" height="1.6" fill="#791d1f"/><rect x="40" y="166" width="110.5" height="1.6" fill="#791d1f"/><rect x="40" y="167" width="110.5" height="1.6" fill="#791d1f"/><rect x="40" y="168" width="110.5" height="1.6" fill="#791d1f"/><rect x="40" y="169" width="110.5" height="1.6" fill="#791d1f"/><rect x="40" y="170" width="110.5" height="1.6" fill="#791d1f"/><rect x="40" y="171" width="110.5" height="1.6" fill="#791d1f"/><rect x="40" y="172" width="110.5" height="1.6" fill="#791d1f"/><rect x="40" y="173" width="110.5" height="1.6" fill="#791d1f"/>
<line x1="40.0" y1="91.5" x2="150.5" y2="91.5" stroke="#000" stroke-opacity="0.3" stroke-width="1"/>
<line x1="95.2" y1="2" x2="95.2" y2="174" stroke="#fff" stroke-width="2.4" stroke-dasharray="6 2.36" stroke-dashoffset="7.973"/>
<rect x="38.8" y="1.3" width="112.9" height="173.4" fill="none" stroke="#000" stroke-width="2.6"/>
<text x="47" y="25.8" font-size="19.3" fill="#fff">(a)</text>
<defs><linearGradient id="gb90"><stop offset="0%" stop-color="#eac937"/><stop offset="18.92%" stop-color="#eac636"/><stop offset="20.72%" stop-color="#ecbf33"/><stop offset="21.62%" stop-color="#ebb631"/><stop offset="23.42%" stop-color="#e7922b"/><stop offset="25.23%" stop-color="#df5c23"/><stop offset="26.13%" stop-color="#d64923"/><stop offset="27.03%" stop-color="#c82f24"/><stop offset="27.93%" stop-color="#a72322"/><stop offset="28.83%" stop-color="#8f2020"/><stop offset="29.73%" stop-color="#a42222"/><stop offset="30.63%" stop-color="#c82d24"/><stop offset="31.53%" stop-color="#d64a23"/><stop offset="32.43%" stop-color="#e05d23"/><stop offset="34.23%" stop-color="#e89b2d"/><stop offset="35.14%" stop-color="#ebb531"/><stop offset="36.94%" stop-color="#e8d23b"/><stop offset="38.74%" stop-color="#e4e544"/><stop offset="44.14%" stop-color="#f7f7ab"/><stop offset="46.85%" stop-color="#fafae4"/><stop offset="48.65%" stop-color="#fcfcfb"/><stop offset="50.45%" stop-color="#fcfcff"/><stop offset="51.35%" stop-color="#fcfcfd"/><stop offset="53.15%" stop-color="#fbfbe9"/><stop offset="55.86%" stop-color="#f7f7b4"/><stop offset="59.46%" stop-color="#ecec6b"/><stop offset="61.26%" stop-color="#e5e64a"/><stop offset="63.96%" stop-color="#e9cb38"/><stop offset="64.86%" stop-color="#ecbe32"/><stop offset="66.67%" stop-color="#e68a2a"/><stop offset="67.57%" stop-color="#e26a25"/><stop offset="69.37%" stop-color="#ce3a24"/><stop offset="70.27%" stop-color="#b42423"/><stop offset="71.17%" stop-color="#922021"/><stop offset="72.07%" stop-color="#992121"/><stop offset="72.97%" stop-color="#be2524"/><stop offset="73.87%" stop-color="#d14024"/><stop offset="75.68%" stop-color="#e26b25"/><stop offset="77.48%" stop-color="#e89f2d"/><stop offset="79.28%" stop-color="#ecbc32"/><stop offset="81.98%" stop-color="#eac736"/><stop offset="100%" stop-color="#eac937"/></linearGradient><linearGradient id="gb91"><stop offset="0%" stop-color="#eac636"/><stop offset="18.02%" stop-color="#ebc435"/><stop offset="19.82%" stop-color="#ecbd32"/><stop offset="21.62%" stop-color="#eaa92f"/><stop offset="23.42%" stop-color="#e58228"/><stop offset="25.23%" stop-color="#dc5423"/><stop offset="26.13%" stop-color="#d34323"/><stop offset="27.03%" stop-color="#c52824"/><stop offset="27.93%" stop-color="#9c2121"/><stop offset="28.83%" stop-color="#7f1e1f"/><stop offset="29.73%" stop-color="#982121"/><stop offset="30.63%" stop-color="#c42624"/><stop offset="31.53%" stop-color="#d34423"/><stop offset="33.33%" stop-color="#e36d25"/><stop offset="35.14%" stop-color="#e9a52e"/><stop offset="36.04%" stop-color="#ecbb31"/><stop offset="38.74%" stop-color="#e5de41"/><stop offset="39.64%" stop-color="#e5e647"/><stop offset="45.95%" stop-color="#f8f8be"/><stop offset="47.75%" stop-color="#fafada"/><stop offset="49.55%" stop-color="#fbfbe8"/><stop offset="51.35%" stop-color="#fafae5"/><stop offset="53.15%" stop-color="#f9f9d3"/><stop offset="57.66%" stop-color="#f0f07f"/><stop offset="60.36%" stop-color="#e6e74e"/><stop offset="61.26%" stop-color="#e5e142"/><stop offset="63.96%" stop-color="#ebc134"/><stop offset="65.77%" stop-color="#e7962c"/><stop offset="67.57%" stop-color="#e05d23"/><stop offset="69.37%" stop-color="#cb3424"/><stop offset="70.27%" stop-color="#ab2322"/><stop offset="71.17%" stop-color="#831e20"/><stop offset="72.07%" stop-color="#8b1f20"/><stop offset="72.97%" stop-color="#b72423"/><stop offset="73.87%" stop-color="#ce3a24"/><stop offset="75.68%" stop-color="#e05e23"/><stop offset="78.38%" stop-color="#e9a32e"/><stop offset="80.18%" stop-color="#ecbb31"/><stop offset="83.78%" stop-color="#eac635"/><stop offset="100%" stop-color="#eac636"/></linearGradient><linearGradient id="gb92"><stop offset="0%" stop-color="#ebc234"/><stop offset="17.12%" stop-color="#ecc033"/><stop offset="19.82%" stop-color="#ebb230"/><stop offset="21.62%" stop-color="#e8992c"/><stop offset="24.32%" stop-color="#df5b23"/><stop offset="26.13%" stop-color="#d03d24"/><stop offset="27.03%" stop-color="#c02624"/><stop offset="27.93%" stop-color="#932021"/><stop offset="28.83%" stop-color="#791d1f"/><stop offset="29.73%" stop-color="#8f2020"/><stop offset="30.63%" stop-color="#be2524"/><stop offset="31.53%" stop-color="#d03d24"/><stop offset="33.33%" stop-color="#e05e23"/><stop offset="36.04%" stop-color="#eaa92f"/><stop offset="37.84%" stop-color="#eac937"/><stop offset="40.54%" stop-color="#e4e544"/><stop offset="45.95%" stop-color="#f5f59d"/><stop offset="48.65%" stop-color="#f8f8bd"/><stop offset="50.45%" stop-color="#f8f8c2"/><stop offset="52.25%" stop-color="#f8f8b9"/><stop offset="56.76%" stop-color="#eeef79"/><stop offset="59.46%" stop-color="#e5e64a"/><stop offset="62.16%" stop-color="#e9cd39"/><stop offset="63.96%" stop-color="#ebb130"/><stop offset="65.77%" stop-color="#e58329"/><stop offset="66.67%" stop-color="#e26824"/><stop offset="68.47%" stop-color="#d44523"/><stop offset="69.37%" stop-color="#c82e24"/><stop offset="70.27%" stop-color="#a32222"/><stop offset="71.17%" stop-color="#791d1f"/><stop offset="72.07%" stop-color="#801e1f"/><stop offset="72.97%" stop-color="#b02423"/><stop offset="73.87%" stop-color="#cb3524"/><stop offset="76.58%" stop-color="#e26724"/><stop offset="78.38%" stop-color="#e7922b"/><stop offset="80.18%" stop-color="#eaae2f"/><stop offset="82.88%" stop-color="#ecbf32"/><stop offset="100%" stop-color="#ebc234"/></linearGradient><linearGradient id="gb93"><stop offset="0%" stop-color="#ecbc32"/><stop offset="15.32%" stop-color="#ecba31"/><stop offset="18.92%" stop-color="#eaac2f"/><stop offset="21.62%" stop-color="#e68829"/><stop offset="23.42%" stop-color="#e16023"/><stop offset="26.13%" stop-color="#cd3724"/><stop offset="27.03%" stop-color="#bb2523"/><stop offset="27.93%" stop-color="#8d1f20"/><stop offset="28.83%" stop-color="#791d1f"/><stop offset="29.73%" stop-color="#891f20"/><stop offset="30.63%" stop-color="#b92523"/><stop offset="31.53%" stop-color="#cd3724"/><stop offset="34.23%" stop-color="#e26624"/><stop offset="36.94%" stop-color="#eaa92f"/><stop offset="38.74%" stop-color="#eac636"/><stop offset="42.34%" stop-color="#e5e648"/><stop offset="45.95%" stop-color="#efef7a"/><stop offset="48.65%" stop-color="#f3f391"/><stop offset="51.35%" stop-color="#f3f493"/><stop offset="54.05%" stop-color="#eff07e"/><stop offset="58.56%" stop-color="#e5e343"/><stop offset="62.16%" stop-color="#ecc033"/><stop offset="63.96%" stop-color="#e89e2d"/><stop offset="66.67%" stop-color="#df5a23"/><stop offset="68.47%" stop-color="#d03e24"/><stop offset="69.37%" stop-color="#c52924"/><stop offset="71.17%" stop-color="#791d1f"/><stop offset="72.07%" stop-color="#7a1d1f"/><stop offset="72.97%" stop-color="#ab2322"/><stop offset="73.87%" stop-color="#c92f24"/><stop offset="76.58%" stop-color="#df5a23"/><stop offset="79.28%" stop-color="#e7922b"/><stop offset="81.08%" stop-color="#eaa92f"/><stop offset="83.78%" stop-color="#ebb831"/><stop offset="98.2%" stop-color="#ecbc32"/><stop offset="100%" stop-color="#ecbc32"/></linearGradient><linearGradient id="gb94"><stop offset="0%" stop-color="#ebb330"/><stop offset="15.32%" stop-color="#eab030"/><stop offset="18.02%" stop-color="#e9a52e"/><stop offset="20.72%" stop-color="#e68629"/><stop offset="23.42%" stop-color="#dd5623"/><stop offset="26.13%" stop-color="#ca3224"/><stop offset="27.03%" stop-color="#b82523"/><stop offset="27.93%" stop-color="#8c1f20"/><stop offset="28.83%" stop-color="#791d1f"/><stop offset="29.73%" stop-color="#881f20"/><stop offset="30.63%" stop-color="#b62423"/><stop offset="31.53%" stop-color="#ca3224"/><stop offset="34.23%" stop-color="#de5923"/><stop offset="37.84%" stop-color="#e9a52e"/><stop offset="39.64%" stop-color="#ecc033"/><stop offset="44.14%" stop-color="#e4e343"/><stop offset="47.75%" stop-color="#eaeb62"/><stop offset="50.45%" stop-color="#ebec69"/><stop offset="53.15%" stop-color="#e9ea5e"/><stop offset="55.86%" stop-color="#e4e544"/><stop offset="60.36%" stop-color="#ebc435"/><stop offset="62.16%" stop-color="#eaac2f"/><stop offset="64.86%" stop-color="#e37426"/><stop offset="65.77%" stop-color="#e15e23"/><stop offset="68.47%" stop-color="#cd3824"/><stop offset="69.37%" stop-color="#c22624"/><stop offset="71.17%" stop-color="#791d1f"/><stop offset="72.07%" stop-color="#791d1f"/><stop offset="72.97%" stop-color="#a82322"/><stop offset="73.87%" stop-color="#c62a24"/><stop offset="76.58%" stop-color="#da5223"/><stop offset="77.48%" stop-color="#e05d23"/><stop offset="80.18%" stop-color="#e68e2a"/><stop offset="82.88%" stop-color="#e9a82f"/><stop offset="87.39%" stop-color="#ebb230"/><stop offset="100%" stop-color="#ebb330"/></linearGradient><linearGradient id="gb95"><stop offset="0%" stop-color="#eaa92f"/><stop offset="14.41%" stop-color="#e9a62e"/><stop offset="18.02%" stop-color="#e7962c"/><stop offset="20.72%" stop-color="#e47526"/><stop offset="22.52%" stop-color="#de5823"/><stop offset="26.13%" stop-color="#c72d24"/><stop offset="27.03%" stop-color="#b62423"/><stop offset="27.93%" stop-color="#8e2020"/><stop offset="28.83%" stop-color="#791d1f"/><stop offset="29.73%" stop-color="#8b1f20"/><stop offset="30.63%" stop-color="#b42423"/><stop offset="31.53%" stop-color="#c72c24"/><stop offset="35.14%" stop-color="#df5b23"/><stop offset="38.74%" stop-color="#e89f2d"/><stop offset="41.44%" stop-color="#ecc033"/><stop offset="46.85%" stop-color="#e6dc40"/><stop offset="51.35%" stop-color="#e5e142"/><stop offset="56.76%" stop-color="#e9ce39"/><stop offset="59.46%" stop-color="#ecbb31"/><stop offset="62.16%" stop-color="#e7962c"/><stop offset="64.86%" stop-color="#e16023"/><stop offset="68.47%" stop-color="#ca3224"/><stop offset="69.37%" stop-color="#bf2524"/><stop offset="71.17%" stop-color="#791d1f"/><stop offset="72.07%" stop-color="#7e1e1f"/><stop offset="72.97%" stop-color="#a82322"/><stop offset="73.87%" stop-color="#c42624"/><stop offset="78.38%" stop-color="#e15e23"/><stop offset="81.08%" stop-color="#e6892a"/><stop offset="83.78%" stop-color="#e89f2d"/><stop offset="89.19%" stop-color="#eaa92f"/><stop offset="100%" stop-color="#eaa92f"/></linearGradient><linearGradient id="gb96"><stop offset="0%" stop-color="#e89f2d"/><stop offset="13.51%" stop-color="#e89c2d"/><stop offset="17.12%" stop-color="#e68e2a"/><stop offset="19.82%" stop-color="#e37226"/><stop offset="23.42%" stop-color="#d44623"/><stop offset="26.13%" stop-color="#c52824"/><stop offset="27.03%" stop-color="#b52423"/><stop offset="27.93%" stop-color="#942021"/><stop offset="28.83%" stop-color="#7d1d1f"/><stop offset="29.73%" stop-color="#912021"/><stop offset="30.63%" stop-color="#b32423"/><stop offset="31.53%" stop-color="#c52824"/><stop offset="36.04%" stop-color="#df5c23"/><stop offset="39.64%" stop-color="#e7972c"/><stop offset="43.24%" stop-color="#ebb931"/><stop offset="47.75%" stop-color="#e9cb38"/><stop offset="53.15%" stop-color="#eaca37"/><stop offset="56.76%" stop-color="#ecbc32"/><stop offset="60.36%" stop-color="#e89b2c"/><stop offset="63.06%" stop-color="#e37226"/><stop offset="64.86%" stop-color="#dc5623"/><stop offset="68.47%" stop-color="#c72c24"/><stop offset="69.37%" stop-color="#bd2524"/><stop offset="71.17%" stop-color="#801e1f"/><stop offset="72.07%" stop-color="#871f20"/><stop offset="72.97%" stop-color="#aa2322"/><stop offset="73.87%" stop-color="#c12624"/><stop offset="79.28%" stop-color="#e15e23"/><stop offset="81.98%" stop-color="#e58329"/><stop offset="85.59%" stop-color="#e8992c"/><stop offset="93.69%" stop-color="#e89f2d"/><stop offset="100%" stop-color="#e89f2d"/></linearGradient><linearGradient id="gb97"><stop offset="0%" stop-color="#e7962c"/><stop offset="13.51%" stop-color="#e7912b"/><stop offset="17.12%" stop-color="#e58028"/><stop offset="21.62%" stop-color="#da5123"/><stop offset="26.13%" stop-color="#c32624"/><stop offset="27.03%" stop-color="#b52423"/><stop offset="27.93%" stop-color="#9c2121"/><stop offset="28.83%" stop-color="#8a1f20"/><stop offset="29.73%" stop-color="#992121"/><stop offset="30.63%" stop-color="#b42423"/><stop offset="31.53%" stop-color="#c22624"/><stop offset="36.94%" stop-color="#df5c23"/><stop offset="40.54%" stop-color="#e68d2a"/><stop offset="44.14%" stop-color="#eaa92f"/><stop offset="47.75%" stop-color="#ebb731"/><stop offset="53.15%" stop-color="#ebb631"/><stop offset="57.66%" stop-color="#e9a02d"/><stop offset="61.26%" stop-color="#e47c28"/><stop offset="63.06%" stop-color="#e15f23"/><stop offset="68.47%" stop-color="#c52824"/><stop offset="69.37%" stop-color="#bb2523"/><stop offset="71.17%" stop-color="#8c1f20"/><stop offset="72.07%" stop-color="#912021"/><stop offset="72.97%" stop-color="#ac2322"/><stop offset="73.87%" stop-color="#be2524"/><stop offset="78.38%" stop-color="#d84d23"/><stop offset="81.98%" stop-color="#e37426"/><stop offset="84.68%" stop-color="#e6892a"/><stop offset="89.19%" stop-color="#e7942b"/><stop offset="100%" stop-color="#e7962c"/></linearGradient><linearGradient id="gb98"><stop offset="0%" stop-color="#e68d2a"/><stop offset="12.61%" stop-color="#e68829"/><stop offset="16.22%" stop-color="#e47927"/><stop offset="19.82%" stop-color="#de5923"/><stop offset="25.23%" stop-color="#c52924"/><stop offset="27.03%" stop-color="#b62423"/><stop offset="27.93%" stop-color="#a32222"/><stop offset="28.83%" stop-color="#962121"/><stop offset="29.73%" stop-color="#a22222"/><stop offset="30.63%" stop-color="#b52423"/><stop offset="31.53%" stop-color="#c02524"/><stop offset="34.23%" stop-color="#ce3924"/><stop offset="38.74%" stop-color="#e26524"/><stop offset="41.44%" stop-color="#e58429"/><stop offset="45.95%" stop-color="#e89e2d"/><stop offset="51.35%" stop-color="#e9a42e"/><stop offset="55.86%" stop-color="#e8982c"/><stop offset="59.46%" stop-color="#e57f28"/><stop offset="63.06%" stop-color="#dd5623"/><stop offset="68.47%" stop-color="#c22624"/><stop offset="69.37%" stop-color="#ba2523"/><stop offset="71.17%" stop-color="#982121"/><stop offset="72.07%" stop-color="#9c2121"/><stop offset="73.87%" stop-color="#bd2524"/><stop offset="75.68%" stop-color="#c82d24"/><stop offset="81.98%" stop-color="#e26624"/><stop offset="85.59%" stop-color="#e58128"/><stop offset="90.99%" stop-color="#e68c2a"/><stop offset="100%" stop-color="#e68d2a"/></linearGradient><linearGradient id="gb99"><stop offset="0%" stop-color="#e58429"/><stop offset="11.71%" stop-color="#e58028"/><stop offset="15.32%" stop-color="#e37326"/><stop offset="19.82%" stop-color="#da5223"/><stop offset="25.23%" stop-color="#c42624"/><stop offset="27.03%" stop-color="#b72423"/><stop offset="28.83%" stop-color="#a12222"/><stop offset="31.53%" stop-color="#be2524"/><stop offset="33.33%" stop-color="#c72c24"/><stop offset="39.64%" stop-color="#e16123"/><stop offset="43.24%" stop-color="#e58128"/><stop offset="47.75%" stop-color="#e7912b"/><stop offset="53.15%" stop-color="#e7902b"/><stop offset="57.66%" stop-color="#e57d28"/><stop offset="62.16%" stop-color="#dc5623"/><stop offset="67.57%" stop-color="#c52824"/><stop offset="69.37%" stop-color="#ba2523"/><stop offset="71.17%" stop-color="#a32222"/><stop offset="72.07%" stop-color="#a52222"/><stop offset="73.87%" stop-color="#bc2523"/><stop offset="76.58%" stop-color="#ca3124"/><stop offset="82.88%" stop-color="#e16224"/><stop offset="86.49%" stop-color="#e47a27"/><stop offset="92.79%" stop-color="#e58429"/><stop offset="100%" stop-color="#e58429"/></linearGradient><linearGradient id="gb100"><stop offset="0%" stop-color="#e57e28"/><stop offset="11.71%" stop-color="#e47827"/><stop offset="15.32%" stop-color="#e26925"/><stop offset="20.72%" stop-color="#d44623"/><stop offset="25.23%" stop-color="#c22624"/><stop offset="28.83%" stop-color="#aa2322"/><stop offset="33.33%" stop-color="#c62924"/><stop offset="41.44%" stop-color="#e26624"/><stop offset="45.95%" stop-color="#e57f28"/><stop offset="51.35%" stop-color="#e58529"/><stop offset="56.76%" stop-color="#e47527"/><stop offset="62.16%" stop-color="#d94f23"/><stop offset="67.57%" stop-color="#c42624"/><stop offset="71.17%" stop-color="#ab2322"/><stop offset="72.07%" stop-color="#ac2322"/><stop offset="75.68%" stop-color="#c52724"/><stop offset="82.88%" stop-color="#df5b23"/><stop offset="88.29%" stop-color="#e47727"/><stop offset="98.2%" stop-color="#e57e28"/><stop offset="100%" stop-color="#e57e28"/></linearGradient><linearGradient id="gb101"><stop offset="0%" stop-color="#e47827"/><stop offset="9.91%" stop-color="#e37426"/><stop offset="14.41%" stop-color="#e26524"/><stop offset="20.72%" stop-color="#d24124"/><stop offset="24.32%" stop-color="#c52824"/><stop offset="28.83%" stop-color="#b02423"/><stop offset="33.33%" stop-color="#c52824"/><stop offset="41.44%" stop-color="#e05d23"/><stop offset="46.85%" stop-color="#e47727"/><stop offset="53.15%" stop-color="#e47827"/><stop offset="57.66%" stop-color="#e26524"/><stop offset="67.57%" stop-color="#c22624"/><stop offset="71.17%" stop-color="#b12423"/><stop offset="72.97%" stop-color="#b72423"/><stop offset="75.68%" stop-color="#c42624"/><stop offset="83.78%" stop-color="#df5a23"/><stop offset="89.19%" stop-color="#e37226"/><stop offset="100%" stop-color="#e47827"/></linearGradient><linearGradient id="gb102"><stop offset="0%" stop-color="#e37426"/><stop offset="9.91%" stop-color="#e36e25"/><stop offset="17.12%" stop-color="#db5423"/><stop offset="24.32%" stop-color="#c52724"/><stop offset="28.83%" stop-color="#b52423"/><stop offset="33.33%" stop-color="#c42724"/><stop offset="41.44%" stop-color="#de5823"/><stop offset="46.85%" stop-color="#e36e25"/><stop offset="52.25%" stop-color="#e37126"/><stop offset="56.76%" stop-color="#e16223"/><stop offset="63.96%" stop-color="#ce3b24"/><stop offset="67.57%" stop-color="#c22624"/><stop offset="71.17%" stop-color="#b52423"/><stop offset="76.58%" stop-color="#c62a24"/><stop offset="83.78%" stop-color="#dd5623"/><stop offset="90.09%" stop-color="#e36e25"/><stop offset="100%" stop-color="#e37326"/></linearGradient><linearGradient id="gb103"><stop offset="0%" stop-color="#e37026"/><stop offset="9.91%" stop-color="#e26a25"/><stop offset="17.12%" stop-color="#da5123"/><stop offset="24.32%" stop-color="#c52724"/><stop offset="28.83%" stop-color="#b92523"/><stop offset="33.33%" stop-color="#c52724"/><stop offset="42.34%" stop-color="#de5823"/><stop offset="48.65%" stop-color="#e26b25"/><stop offset="53.15%" stop-color="#e26925"/><stop offset="60.36%" stop-color="#d84e23"/><stop offset="67.57%" stop-color="#c32624"/><stop offset="71.17%" stop-color="#b92523"/><stop offset="75.68%" stop-color="#c42624"/><stop offset="84.68%" stop-color="#dd5723"/><stop offset="91.89%" stop-color="#e36c25"/><stop offset="100%" stop-color="#e37026"/></linearGradient><linearGradient id="gb104"><stop offset="0%" stop-color="#e36e25"/><stop offset="9.01%" stop-color="#e26824"/><stop offset="17.12%" stop-color="#d94e23"/><stop offset="25.23%" stop-color="#c32624"/><stop offset="29.73%" stop-color="#bc2523"/><stop offset="33.33%" stop-color="#c52824"/><stop offset="43.24%" stop-color="#de5923"/><stop offset="49.55%" stop-color="#e26724"/><stop offset="54.95%" stop-color="#e15f23"/><stop offset="61.26%" stop-color="#d54723"/><stop offset="67.57%" stop-color="#c42624"/><stop offset="72.07%" stop-color="#bc2523"/><stop offset="76.58%" stop-color="#c72b24"/><stop offset="85.59%" stop-color="#dd5823"/><stop offset="93.69%" stop-color="#e26b25"/><stop offset="100%" stop-color="#e36e25"/></linearGradient><linearGradient id="gb105"><stop offset="0%" stop-color="#e36d25"/><stop offset="9.91%" stop-color="#e26424"/><stop offset="18.92%" stop-color="#d44523"/><stop offset="25.23%" stop-color="#c52724"/><stop offset="29.73%" stop-color="#c02524"/><stop offset="33.33%" stop-color="#c62a24"/><stop offset="43.24%" stop-color="#dd5723"/><stop offset="50.45%" stop-color="#e26424"/><stop offset="57.66%" stop-color="#dc5523"/><stop offset="68.47%" stop-color="#c32624"/><stop offset="72.97%" stop-color="#c02624"/><stop offset="75.68%" stop-color="#c62924"/><stop offset="86.49%" stop-color="#de5923"/><stop offset="94.59%" stop-color="#e26a25"/><stop offset="100%" stop-color="#e36d25"/></linearGradient><linearGradient id="gb106"><stop offset="0%" stop-color="#e36c25"/><stop offset="9.01%" stop-color="#e26424"/><stop offset="18.02%" stop-color="#d64923"/><stop offset="26.13%" stop-color="#c52824"/><stop offset="31.53%" stop-color="#c52824"/><stop offset="45.05%" stop-color="#df5b23"/><stop offset="51.35%" stop-color="#e16123"/><stop offset="59.46%" stop-color="#d84e23"/><stop offset="68.47%" stop-color="#c52824"/><stop offset="74.77%" stop-color="#c62924"/><stop offset="87.39%" stop-color="#df5a23"/><stop offset="96.4%" stop-color="#e26b25"/><stop offset="100%" stop-color="#e36c25"/></linearGradient><linearGradient id="gb107"><stop offset="0%" stop-color="#e36d25"/><stop offset="9.01%" stop-color="#e26424"/><stop offset="18.02%" stop-color="#d64923"/><stop offset="26.13%" stop-color="#c72c24"/><stop offset="31.53%" stop-color="#c72b24"/><stop offset="45.05%" stop-color="#de5a23"/><stop offset="52.25%" stop-color="#e15f23"/><stop offset="59.46%" stop-color="#d84e23"/><stop offset="68.47%" stop-color="#c72c24"/><stop offset="73.87%" stop-color="#c62b24"/><stop offset="82.88%" stop-color="#d74b23"/><stop offset="92.79%" stop-color="#e26724"/><stop offset="100%" stop-color="#e36d25"/></linearGradient><linearGradient id="gb108"><stop offset="0%" stop-color="#e36e25"/><stop offset="9.01%" stop-color="#e26424"/><stop offset="18.92%" stop-color="#d54723"/><stop offset="27.03%" stop-color="#c82e24"/><stop offset="32.43%" stop-color="#ca3124"/><stop offset="45.95%" stop-color="#df5c23"/><stop offset="53.15%" stop-color="#e05e23"/><stop offset="61.26%" stop-color="#d54823"/><stop offset="68.47%" stop-color="#c93024"/><stop offset="73.87%" stop-color="#c92f24"/><stop offset="90.09%" stop-color="#e16123"/><stop offset="99.1%" stop-color="#e36e25"/><stop offset="100%" stop-color="#e36e25"/></linearGradient><linearGradient id="gb109"><stop offset="0%" stop-color="#e37026"/><stop offset="9.01%" stop-color="#e26524"/><stop offset="27.03%" stop-color="#cb3324"/><stop offset="33.33%" stop-color="#cd3824"/><stop offset="45.95%" stop-color="#e05c23"/><stop offset="53.15%" stop-color="#e05e23"/><stop offset="62.16%" stop-color="#d54723"/><stop offset="69.37%" stop-color="#cb3424"/><stop offset="74.77%" stop-color="#cc3524"/><stop offset="90.99%" stop-color="#e26524"/><stop offset="100%" stop-color="#e37026"/></linearGradient><linearGradient id="gb110"><stop offset="0%" stop-color="#e37326"/><stop offset="9.01%" stop-color="#e26824"/><stop offset="26.13%" stop-color="#ce3a24"/><stop offset="32.43%" stop-color="#cf3b24"/><stop offset="46.85%" stop-color="#e15f23"/><stop offset="53.15%" stop-color="#e15f23"/><stop offset="63.96%" stop-color="#d44523"/><stop offset="71.17%" stop-color="#cd3824"/><stop offset="77.48%" stop-color="#d14024"/><stop offset="90.99%" stop-color="#e26724"/><stop offset="100%" stop-color="#e37326"/></linearGradient><linearGradient id="gb111"><stop offset="0%" stop-color="#e47727"/><stop offset="9.01%" stop-color="#e26c25"/><stop offset="26.13%" stop-color="#d13f24"/><stop offset="33.33%" stop-color="#d24224"/><stop offset="48.65%" stop-color="#e26424"/><stop offset="54.05%" stop-color="#e16023"/><stop offset="70.27%" stop-color="#d03e24"/><stop offset="77.48%" stop-color="#d44523"/><stop offset="91.89%" stop-color="#e36d25"/><stop offset="100%" stop-color="#e47727"/></linearGradient><linearGradient id="gb112"><stop offset="0%" stop-color="#e47c28"/><stop offset="9.01%" stop-color="#e37126"/><stop offset="21.62%" stop-color="#d84d23"/><stop offset="29.73%" stop-color="#d34423"/><stop offset="40.54%" stop-color="#dd5823"/><stop offset="49.55%" stop-color="#e26925"/><stop offset="54.95%" stop-color="#e16324"/><stop offset="69.37%" stop-color="#d44523"/><stop offset="76.58%" stop-color="#d64923"/><stop offset="88.29%" stop-color="#e26824"/><stop offset="96.4%" stop-color="#e47927"/><stop offset="100%" stop-color="#e47c28"/></linearGradient><linearGradient id="gb113"><stop offset="0%" stop-color="#e58329"/><stop offset="9.91%" stop-color="#e47526"/><stop offset="19.82%" stop-color="#dd5723"/><stop offset="28.83%" stop-color="#d74b23"/><stop offset="36.94%" stop-color="#dc5523"/><stop offset="48.65%" stop-color="#e36f25"/><stop offset="55.86%" stop-color="#e26724"/><stop offset="67.57%" stop-color="#d84e23"/><stop offset="75.68%" stop-color="#d84e23"/><stop offset="85.59%" stop-color="#e26524"/><stop offset="94.59%" stop-color="#e47d28"/><stop offset="100%" stop-color="#e58329"/></linearGradient><linearGradient id="gb114"><stop offset="0%" stop-color="#e68a2a"/><stop offset="9.91%" stop-color="#e47d28"/><stop offset="20.72%" stop-color="#df5b23"/><stop offset="30.63%" stop-color="#db5323"/><stop offset="39.64%" stop-color="#e16123"/><stop offset="47.75%" stop-color="#e47527"/><stop offset="54.05%" stop-color="#e37326"/><stop offset="65.77%" stop-color="#dd5723"/><stop offset="74.77%" stop-color="#dc5423"/><stop offset="82.88%" stop-color="#e26424"/><stop offset="92.79%" stop-color="#e58228"/><stop offset="100%" stop-color="#e68a2a"/></linearGradient><linearGradient id="gb115"><stop offset="0%" stop-color="#e7932b"/><stop offset="10.81%" stop-color="#e58429"/><stop offset="24.32%" stop-color="#e05d23"/><stop offset="34.23%" stop-color="#e15e23"/><stop offset="47.75%" stop-color="#e57e28"/><stop offset="54.95%" stop-color="#e47b27"/><stop offset="66.67%" stop-color="#e05e23"/><stop offset="76.58%" stop-color="#e05e23"/><stop offset="92.79%" stop-color="#e68b2a"/><stop offset="100%" stop-color="#e7932b"/></linearGradient><linearGradient id="gb116"><stop offset="0%" stop-color="#e89d2d"/><stop offset="10.81%" stop-color="#e68e2a"/><stop offset="26.13%" stop-color="#e26824"/><stop offset="33.33%" stop-color="#e26a25"/><stop offset="47.75%" stop-color="#e6882a"/><stop offset="54.95%" stop-color="#e58529"/><stop offset="69.37%" stop-color="#e26724"/><stop offset="76.58%" stop-color="#e26c25"/><stop offset="93.69%" stop-color="#e7962c"/><stop offset="100%" stop-color="#e89d2d"/></linearGradient><linearGradient id="gb117"><stop offset="0%" stop-color="#e9a72e"/><stop offset="10.81%" stop-color="#e8992c"/><stop offset="26.13%" stop-color="#e47827"/><stop offset="34.23%" stop-color="#e47b27"/><stop offset="48.65%" stop-color="#e7942b"/><stop offset="56.76%" stop-color="#e68e2a"/><stop offset="69.37%" stop-color="#e47727"/><stop offset="77.48%" stop-color="#e47d28"/><stop offset="94.59%" stop-color="#e9a22e"/><stop offset="100%" stop-color="#e9a72e"/></linearGradient><linearGradient id="gb118"><stop offset="0%" stop-color="#ebb230"/><stop offset="11.71%" stop-color="#e9a32e"/><stop offset="26.13%" stop-color="#e68829"/><stop offset="34.23%" stop-color="#e68a2a"/><stop offset="48.65%" stop-color="#e8a02d"/><stop offset="57.66%" stop-color="#e8992c"/><stop offset="69.37%" stop-color="#e68729"/><stop offset="78.38%" stop-color="#e68d2a"/><stop offset="95.5%" stop-color="#eaae30"/><stop offset="100%" stop-color="#ebb230"/></linearGradient><linearGradient id="gb119"><stop offset="0%" stop-color="#ecbd32"/><stop offset="13.51%" stop-color="#eaac2f"/><stop offset="27.03%" stop-color="#e7962c"/><stop offset="37.84%" stop-color="#e89e2d"/><stop offset="50.45%" stop-color="#eaab2f"/><stop offset="61.26%" stop-color="#e9a02d"/><stop offset="71.17%" stop-color="#e7962c"/><stop offset="81.98%" stop-color="#e9a22e"/><stop offset="97.3%" stop-color="#ecbb32"/><stop offset="100%" stop-color="#ecbd32"/></linearGradient><linearGradient id="gb120"><stop offset="0%" stop-color="#ebc535"/><stop offset="15.32%" stop-color="#ebb430"/><stop offset="29.73%" stop-color="#e9a42e"/><stop offset="50.45%" stop-color="#ebb631"/><stop offset="72.07%" stop-color="#e9a42e"/><stop offset="85.59%" stop-color="#ebb531"/><stop offset="98.2%" stop-color="#ebc435"/><stop offset="100%" stop-color="#ebc535"/></linearGradient><linearGradient id="gb121"><stop offset="0%" stop-color="#e9cc38"/><stop offset="20.72%" stop-color="#ebb831"/><stop offset="31.53%" stop-color="#ebb230"/><stop offset="50.45%" stop-color="#ecc033"/><stop offset="72.97%" stop-color="#ebb230"/><stop offset="100%" stop-color="#e9cc38"/></linearGradient><linearGradient id="gb122"><stop offset="0%" stop-color="#e8d23b"/><stop offset="29.73%" stop-color="#ecbe32"/><stop offset="53.15%" stop-color="#eac736"/><stop offset="74.77%" stop-color="#ecbe32"/><stop offset="100%" stop-color="#e8d23b"/></linearGradient><linearGradient id="gb123"><stop offset="0%" stop-color="#e7d73e"/><stop offset="30.63%" stop-color="#eac636"/><stop offset="54.95%" stop-color="#e9cc39"/><stop offset="74.77%" stop-color="#eac636"/><stop offset="100%" stop-color="#e7d73e"/></linearGradient><linearGradient id="gb124"><stop offset="0%" stop-color="#e6dc40"/><stop offset="30.63%" stop-color="#e9cc39"/><stop offset="55.86%" stop-color="#e8d23b"/><stop offset="75.68%" stop-color="#e9cd39"/><stop offset="100%" stop-color="#e6dc40"/></linearGradient><linearGradient id="gb125"><stop offset="0%" stop-color="#e5e042"/><stop offset="31.53%" stop-color="#e8d23b"/><stop offset="58.56%" stop-color="#e7d63d"/><stop offset="78.38%" stop-color="#e7d43c"/><stop offset="100%" stop-color="#e5e042"/></linearGradient><linearGradient id="gb126"><stop offset="0%" stop-color="#e4e443"/><stop offset="32.43%" stop-color="#e7d83e"/><stop offset="60.36%" stop-color="#e6da3f"/><stop offset="82.88%" stop-color="#e6db40"/><stop offset="100%" stop-color="#e4e343"/></linearGradient><linearGradient id="gb127"><stop offset="0%" stop-color="#e5e647"/><stop offset="33.33%" stop-color="#e6dc40"/><stop offset="82.88%" stop-color="#e5df41"/><stop offset="100%" stop-color="#e5e647"/></linearGradient><linearGradient id="gb128"><stop offset="0%" stop-color="#e6e74d"/><stop offset="22.52%" stop-color="#e5e142"/><stop offset="83.78%" stop-color="#e4e343"/><stop offset="100%" stop-color="#e6e74d"/></linearGradient><linearGradient id="gb129"><stop offset="0%" stop-color="#e7e852"/><stop offset="27.93%" stop-color="#e4e444"/><stop offset="82.88%" stop-color="#e5e647"/><stop offset="100%" stop-color="#e7e852"/></linearGradient><linearGradient id="gb130"><stop offset="0%" stop-color="#e8e957"/><stop offset="33.33%" stop-color="#e5e64a"/><stop offset="81.08%" stop-color="#e6e74d"/><stop offset="100%" stop-color="#e8e957"/></linearGradient><linearGradient id="gb131"><stop offset="0%" stop-color="#e9ea5d"/><stop offset="33.33%" stop-color="#e7e852"/><stop offset="82.88%" stop-color="#e7e855"/><stop offset="100%" stop-color="#e9ea5d"/></linearGradient><linearGradient id="gb132"><stop offset="0%" stop-color="#eaeb63"/><stop offset="36.04%" stop-color="#e8e95a"/><stop offset="84.68%" stop-color="#e9ea5d"/><stop offset="100%" stop-color="#eaeb63"/></linearGradient><linearGradient id="gb133"><stop offset="0%" stop-color="#ecec6b"/><stop offset="36.04%" stop-color="#eaeb63"/><stop offset="84.68%" stop-color="#ebeb65"/><stop offset="100%" stop-color="#ecec6b"/></linearGradient><linearGradient id="gb134"><stop offset="0%" stop-color="#edee73"/><stop offset="42.34%" stop-color="#ecec6c"/><stop offset="90.99%" stop-color="#eded70"/><stop offset="100%" stop-color="#edee73"/></linearGradient><linearGradient id="gb135"><stop offset="0%" stop-color="#efef7c"/><stop offset="47.75%" stop-color="#eeee77"/><stop offset="91.89%" stop-color="#efef7a"/><stop offset="100%" stop-color="#efef7c"/></linearGradient><linearGradient id="gb136"><stop offset="0%" stop-color="#f1f187"/><stop offset="60.36%" stop-color="#f0f082"/><stop offset="100%" stop-color="#f1f187"/></linearGradient><linearGradient id="gb137"><stop offset="0%" stop-color="#f3f493"/><stop offset="61.26%" stop-color="#f3f38f"/><stop offset="100%" stop-color="#f3f493"/></linearGradient><linearGradient id="gb139"><stop offset="0%" stop-color="#f7f7af"/><stop offset="81.08%" stop-color="#f7f7ac"/><stop offset="100%" stop-color="#f7f7af"/></linearGradient></defs><rect x="159" y="2" width="110.5" height="1.6" fill="#e4e343"/><rect x="159" y="3" width="110.5" height="1.6" fill="#e4e343"/><rect x="159" y="4" width="110.5" height="1.6" fill="#e4e343"/><rect x="159" y="5" width="110.5" height="1.6" fill="#e4e343"/><rect x="159" y="6" width="110.5" height="1.6" fill="#e4e343"/><rect x="159" y="7" width="110.5" height="1.6" fill="#e4e343"/><rect x="159" y="8" width="110.5" height="1.6" fill="#e4e343"/><rect x="159" y="9" width="110.5" height="1.6" fill="#e4e343"/><rect x="159" y="10" width="110.5" height="1.6" fill="#e4e343"/><rect x="159" y="11" width="110.5" height="1.6" fill="#e4e343"/><rect x="159" y="12" width="110.5" height="1.6" fill="#e4e343"/><rect x="159" y="13" width="110.5" height="1.6" fill="#e4e343"/><rect x="159" y="14" width="110.5" height="1.6" fill="#e4e343"/><rect x="159" y="15" width="110.5" height="1.6" fill="#e4e343"/><rect x="159" y="16" width="110.5" height="1.6" fill="#e4e343"/><rect x="159" y="17" width="110.5" height="1.6" fill="#e4e343"/><rect x="159" y="18" width="110.5" height="1.6" fill="#e4e343"/><rect x="159" y="19" width="110.5" height="1.6" fill="#e4e343"/><rect x="159" y="20" width="110.5" height="1.6" fill="#e4e343"/><rect x="159" y="21" width="110.5" height="1.6" fill="#e4e343"/><rect x="159" y="22" width="110.5" height="1.6" fill="#e4e343"/><rect x="159" y="23" width="110.5" height="1.6" fill="#e4e343"/><rect x="159" y="24" width="110.5" height="1.6" fill="#e4e343"/><rect x="159" y="25" width="110.5" height="1.6" fill="#e4e343"/><rect x="159" y="26" width="110.5" height="1.6" fill="#e4e343"/><rect x="159" y="27" width="110.5" height="1.6" fill="#e4e343"/><rect x="159" y="28" width="110.5" height="1.6" fill="#e4e343"/><rect x="159" y="29" width="110.5" height="1.6" fill="#e4e343"/><rect x="159" y="30" width="110.5" height="1.6" fill="#e4e343"/><rect x="159" y="31" width="110.5" height="1.6" fill="#e4e343"/><rect x="159" y="32" width="110.5" height="1.6" fill="#e4e343"/><rect x="159" y="33" width="110.5" height="1.6" fill="#e4e343"/><rect x="159" y="34" width="110.5" height="1.6" fill="#e4e343"/><rect x="159" y="35" width="110.5" height="1.6" fill="#e4e343"/><rect x="159" y="36" width="110.5" height="1.6" fill="#e4e343"/><rect x="159" y="37" width="110.5" height="1.6" fill="#e4e343"/><rect x="159" y="38" width="110.5" height="1.6" fill="#e4e343"/><rect x="159" y="39" width="110.5" height="1.6" fill="#e4e343"/><rect x="159" y="40" width="110.5" height="1.6" fill="#e4e343"/><rect x="159" y="41" width="110.5" height="1.6" fill="#e4e343"/><rect x="159" y="42" width="110.5" height="1.6" fill="#e4e343"/><rect x="159" y="43" width="110.5" height="1.6" fill="#e4e343"/><rect x="159" y="44" width="110.5" height="1.6" fill="#e4e343"/><rect x="159" y="45" width="110.5" height="1.6" fill="#e4e343"/><rect x="159" y="46" width="110.5" height="1.6" fill="#e4e343"/><rect x="159" y="47" width="110.5" height="1.6" fill="#e4e343"/><rect x="159" y="48" width="110.5" height="1.6" fill="#e4e343"/><rect x="159" y="49" width="110.5" height="1.6" fill="#e4e343"/><rect x="159" y="50" width="110.5" height="1.6" fill="#e4e343"/><rect x="159" y="51" width="110.5" height="1.6" fill="#e4e343"/><rect x="159" y="52" width="110.5" height="1.6" fill="#e4e343"/><rect x="159" y="53" width="110.5" height="1.6" fill="#e4e343"/><rect x="159" y="54" width="110.5" height="1.6" fill="#e4e343"/><rect x="159" y="55" width="110.5" height="1.6" fill="#e4e343"/><rect x="159" y="56" width="110.5" height="1.6" fill="#e4e343"/><rect x="159" y="57" width="110.5" height="1.6" fill="#e4e343"/><rect x="159" y="58" width="110.5" height="1.6" fill="#e4e343"/><rect x="159" y="59" width="110.5" height="1.6" fill="#e4e343"/><rect x="159" y="60" width="110.5" height="1.6" fill="#e4e343"/><rect x="159" y="61" width="110.5" height="1.6" fill="#e4e343"/><rect x="159" y="62" width="110.5" height="1.6" fill="#e4e343"/><rect x="159" y="63" width="110.5" height="1.6" fill="#e4e343"/><rect x="159" y="64" width="110.5" height="1.6" fill="#e4e343"/><rect x="159" y="65" width="110.5" height="1.6" fill="#e4e343"/><rect x="159" y="66" width="110.5" height="1.6" fill="#e4e343"/><rect x="159" y="67" width="110.5" height="1.6" fill="#e4e343"/><rect x="159" y="68" width="110.5" height="1.6" fill="#e4e343"/><rect x="159" y="69" width="110.5" height="1.6" fill="#e4e343"/><rect x="159" y="70" width="110.5" height="1.6" fill="#e4e343"/><rect x="159" y="71" width="110.5" height="1.6" fill="#e4e343"/><rect x="159" y="72" width="110.5" height="1.6" fill="#e4e343"/><rect x="159" y="73" width="110.5" height="1.6" fill="#e4e343"/><rect x="159" y="74" width="110.5" height="1.6" fill="#e4e343"/><rect x="159" y="75" width="110.5" height="1.6" fill="#e4e343"/><rect x="159" y="76" width="110.5" height="1.6" fill="#e4e343"/><rect x="159" y="77" width="110.5" height="1.6" fill="#e4e343"/><rect x="159" y="78" width="110.5" height="1.6" fill="#e4e343"/><rect x="159" y="79" width="110.5" height="1.6" fill="#e4e343"/><rect x="159" y="80" width="110.5" height="1.6" fill="#e4e343"/><rect x="159" y="81" width="110.5" height="1.6" fill="#e4e343"/><rect x="159" y="82" width="110.5" height="1.6" fill="#e4e343"/><rect x="159" y="83" width="110.5" height="1.6" fill="#e4e343"/><rect x="159" y="84" width="110.5" height="1.6" fill="#e4e343"/><rect x="159" y="85" width="110.5" height="1.6" fill="#e4e343"/><rect x="159" y="86" width="110.5" height="1.6" fill="#e4e343"/><rect x="159" y="87" width="110.5" height="1.6" fill="#e4e343"/><rect x="159" y="88" width="110.5" height="1.6" fill="#e4e343"/><rect x="159" y="89" width="110.5" height="1.6" fill="#e4e343"/><rect x="159" y="90" width="110.5" height="1.6" fill="#e4e343"/><rect x="159" y="91" width="110.5" height="1.6" fill="#e4e343"/><rect x="159" y="92" width="110.5" height="1.6" fill="url(#gb90)"/><rect x="159" y="93" width="110.5" height="1.6" fill="url(#gb91)"/><rect x="159" y="94" width="110.5" height="1.6" fill="url(#gb92)"/><rect x="159" y="95" width="110.5" height="1.6" fill="url(#gb93)"/><rect x="159" y="96" width="110.5" height="1.6" fill="url(#gb94)"/><rect x="159" y="97" width="110.5" height="1.6" fill="url(#gb95)"/><rect x="159" y="98" width="110.5" height="1.6" fill="url(#gb96)"/><rect x="159" y="99" width="110.5" height="1.6" fill="url(#gb97)"/><rect x="159" y="100" width="110.5" height="1.6" fill="url(#gb98)"/><rect x="159" y="101" width="110.5" height="1.6" fill="url(#gb99)"/><rect x="159" y="102" width="110.5" height="1.6" fill="url(#gb100)"/><rect x="159" y="103" width="110.5" height="1.6" fill="url(#gb101)"/><rect x="159" y="104" width="110.5" height="1.6" fill="url(#gb102)"/><rect x="159" y="105" width="110.5" height="1.6" fill="url(#gb103)"/><rect x="159" y="106" width="110.5" height="1.6" fill="url(#gb104)"/><rect x="159" y="107" width="110.5" height="1.6" fill="url(#gb105)"/><rect x="159" y="108" width="110.5" height="1.6" fill="url(#gb106)"/><rect x="159" y="109" width="110.5" height="1.6" fill="url(#gb107)"/><rect x="159" y="110" width="110.5" height="1.6" fill="url(#gb108)"/><rect x="159" y="111" width="110.5" height="1.6" fill="url(#gb109)"/><rect x="159" y="112" width="110.5" height="1.6" fill="url(#gb110)"/><rect x="159" y="113" width="110.5" height="1.6" fill="url(#gb111)"/><rect x="159" y="114" width="110.5" height="1.6" fill="url(#gb112)"/><rect x="159" y="115" width="110.5" height="1.6" fill="url(#gb113)"/><rect x="159" y="116" width="110.5" height="1.6" fill="url(#gb114)"/><rect x="159" y="117" width="110.5" height="1.6" fill="url(#gb115)"/><rect x="159" y="118" width="110.5" height="1.6" fill="url(#gb116)"/><rect x="159" y="119" width="110.5" height="1.6" fill="url(#gb117)"/><rect x="159" y="120" width="110.5" height="1.6" fill="url(#gb118)"/><rect x="159" y="121" width="110.5" height="1.6" fill="url(#gb119)"/><rect x="159" y="122" width="110.5" height="1.6" fill="url(#gb120)"/><rect x="159" y="123" width="110.5" height="1.6" fill="url(#gb121)"/><rect x="159" y="124" width="110.5" height="1.6" fill="url(#gb122)"/><rect x="159" y="125" width="110.5" height="1.6" fill="url(#gb123)"/><rect x="159" y="126" width="110.5" height="1.6" fill="url(#gb124)"/><rect x="159" y="127" width="110.5" height="1.6" fill="url(#gb125)"/><rect x="159" y="128" width="110.5" height="1.6" fill="url(#gb126)"/><rect x="159" y="129" width="110.5" height="1.6" fill="url(#gb127)"/><rect x="159" y="130" width="110.5" height="1.6" fill="url(#gb128)"/><rect x="159" y="131" width="110.5" height="1.6" fill="url(#gb129)"/><rect x="159" y="132" width="110.5" height="1.6" fill="url(#gb130)"/><rect x="159" y="133" width="110.5" height="1.6" fill="url(#gb131)"/><rect x="159" y="134" width="110.5" height="1.6" fill="url(#gb132)"/><rect x="159" y="135" width="110.5" height="1.6" fill="url(#gb133)"/><rect x="159" y="136" width="110.5" height="1.6" fill="url(#gb134)"/><rect x="159" y="137" width="110.5" height="1.6" fill="url(#gb135)"/><rect x="159" y="138" width="110.5" height="1.6" fill="url(#gb136)"/><rect x="159" y="139" width="110.5" height="1.6" fill="url(#gb137)"/><rect x="159" y="140" width="110.5" height="1.6" fill="#f6f69f"/><rect x="159" y="141" width="110.5" height="1.6" fill="url(#gb139)"/><rect x="159" y="142" width="110.5" height="1.6" fill="#f8f8bf"/><rect x="159" y="143" width="110.5" height="1.6" fill="#f9f9cf"/><rect x="159" y="144" width="110.5" height="1.6" fill="#fafadd"/><rect x="159" y="145" width="110.5" height="1.6" fill="#fbfbea"/><rect x="159" y="146" width="110.5" height="1.6" fill="#fbfbf6"/><rect x="159" y="147" width="110.5" height="1.6" fill="#fcfcff"/><rect x="159" y="148" width="110.5" height="1.6" fill="#fcfcff"/><rect x="159" y="149" width="110.5" height="1.6" fill="#fcfcff"/><rect x="159" y="150" width="110.5" height="1.6" fill="#fcfcff"/><rect x="159" y="151" width="110.5" height="1.6" fill="#fcfcff"/><rect x="159" y="152" width="110.5" height="1.6" fill="#fcfcff"/><rect x="159" y="153" width="110.5" height="1.6" fill="#fcfcff"/><rect x="159" y="154" width="110.5" height="1.6" fill="#fcfcff"/><rect x="159" y="155" width="110.5" height="1.6" fill="#fcfcff"/><rect x="159" y="156" width="110.5" height="1.6" fill="#fcfcff"/><rect x="159" y="157" width="110.5" height="1.6" fill="#fcfcff"/><rect x="159" y="158" width="110.5" height="1.6" fill="#fcfcff"/><rect x="159" y="159" width="110.5" height="1.6" fill="#fcfcff"/><rect x="159" y="160" width="110.5" height="1.6" fill="#fcfcff"/><rect x="159" y="161" width="110.5" height="1.6" fill="#fcfcff"/><rect x="159" y="162" width="110.5" height="1.6" fill="#fcfcff"/><rect x="159" y="163" width="110.5" height="1.6" fill="#fcfcff"/><rect x="159" y="164" width="110.5" height="1.6" fill="#fcfcff"/><rect x="159" y="165" width="110.5" height="1.6" fill="#fcfcff"/><rect x="159" y="166" width="110.5" height="1.6" fill="#fcfcff"/><rect x="159" y="167" width="110.5" height="1.6" fill="#fcfcff"/><rect x="159" y="168" width="110.5" height="1.6" fill="#fcfcff"/><rect x="159" y="169" width="110.5" height="1.6" fill="#fcfcff"/><rect x="159" y="170" width="110.5" height="1.6" fill="#fcfcff"/><rect x="159" y="171" width="110.5" height="1.6" fill="#fcfcff"/><rect x="159" y="172" width="110.5" height="1.6" fill="#fcfcff"/><rect x="159" y="173" width="110.5" height="1.6" fill="#fcfcff"/>
<line x1="159.0" y1="91.4" x2="269.5" y2="91.4" stroke="#2a2a10" stroke-width="0.9"/>
<line x1="186.5" y1="91.8" x2="241.3" y2="91.8" stroke="#111" stroke-width="1.4"/>
<line x1="212.8" y1="2" x2="212.8" y2="174" stroke="#000" stroke-width="2.4" stroke-dasharray="6 2.36" stroke-dashoffset="7.973"/>
<rect x="157.8" y="1.3" width="113.2" height="173.4" fill="none" stroke="#000" stroke-width="2.6"/>
<text x="165" y="25.8" font-size="19.3" fill="#000">(b)</text>
<path d="M331.0 15.5 V162.0 H531.5" fill="none" stroke="#262626" stroke-width="2" stroke-linecap="square"/>
<path d="M331.0 162 h2.5 M331.0 132.7 h2.5 M331.0 103.4 h2.5 M331.0 74.1 h2.5 M331.0 44.8 h2.5 M331.0 15.5 h2.5 M331 162.0 v-2.5 M381.12 162.0 v-2.5 M431.25 162.0 v-2.5 M481.38 162.0 v-2.5 M531.5 162.0 v-2.5 " stroke="#262626" stroke-width="2" fill="none"/>
<path d="M330 160.1 L331.13 159.78 L332.3 159.5 L333.51 159.26 L334.75 159.06 L336.02 158.89 L337.33 158.74 L338.65 158.62 L340 158.51 L341.37 158.43 L342.75 158.35 L344.15 158.29 L345.56 158.23 L346.97 158.16 L348.39 158.1 L349.82 158.03 L351.24 157.95 L352.66 157.85 L354.07 157.74 L355.47 157.6 L356.86 157.44 L358.23 157.24 L359.59 157.02 L360.92 156.75 L362.23 156.45 L363.51 156.1 L364.77 155.7 L365.99 155.25 L367.17 154.75 L368.32 154.18 L369.42 153.55 L370.48 152.85 L371.49 152.09 L372.47 151.26 L373.39 150.37 L374.28 149.43 L375.13 148.44 L375.95 147.4 L376.73 146.33 L377.48 145.21 L378.19 144.07 L378.88 142.9 L379.54 141.71 L380.18 140.5 L380.79 139.28 L381.38 138.05 L381.95 136.81 L382.5 135.57 L383.03 134.32 L383.54 133.07 L384.03 131.81 L384.51 130.55 L384.97 129.29 L385.41 128.02 L385.84 126.75 L386.26 125.47 L386.66 124.19 L387.05 122.91 L387.42 121.63 L387.79 120.34 L388.14 119.05 L388.48 117.76 L388.81 116.46 L389.14 115.17 L389.45 113.87 L389.76 112.57 L390.06 111.27 L390.35 109.97 L390.64 108.67 L390.93 107.37 L391.2 106.07 L391.48 104.76 L391.75 103.46 L392.02 102.16 L392.29 100.86 L392.55 99.56 L392.82 98.27 L393.08 96.97 L393.35 95.67 L393.61 94.38 L393.87 93.08 L394.13 91.79 L394.4 90.49 L394.66 89.2 L394.92 87.91 L395.18 86.61 L395.44 85.32 L395.7 84.03 L395.96 82.74 L396.22 81.45 L396.48 80.16 L396.74 78.87 L397 77.57 L397.27 76.28 L397.53 74.99 L397.79 73.7 L398.06 72.41 L398.32 71.12 L398.59 69.82 L398.86 68.53 L399.13 67.24 L399.4 65.95 L399.67 64.65 L399.94 63.36 L400.22 62.06 L400.49 60.77 L400.77 59.47 L401.05 58.17 L401.33 56.87 L401.62 55.58 L401.9 54.28 L402.19 52.97 L402.48 51.67 L402.78 50.37 L403.07 49.06 L403.37 47.76 L403.67 46.45 L403.97 45.14 L404.28 43.83 L404.59 42.52 L404.9 41.21 L405.22 39.89 L405.54 38.58 L405.87 37.26 L406.21 35.95 L406.56 34.65 L406.94 33.35 L407.34 32.07 L407.77 30.8 L408.24 29.55 L408.74 28.32 L409.29 27.12 L409.88 25.93 L410.53 24.78 L411.23 23.67 L411.99 22.61 L412.82 21.62 L413.72 20.73 L414.69 19.94 L415.75 19.28 L416.87 18.75 L418.07 18.32 L419.32 17.96 L420.63 17.64 L421.97 17.35 L423.35 17.07 L424.75 16.8 L426.16 16.53 L427.57 16.25 L428.98 15.97 L430.37 15.73 L431.74 15.56 L433.06 15.48 L434.33 15.54 L435.53 15.76 L436.65 16.18 L437.67 16.78 L438.62 17.55 L439.48 18.45 L440.27 19.46 L441 20.55 L441.67 21.71 L442.29 22.92 L442.86 24.18 L443.4 25.47 L443.9 26.79 L444.37 28.13 L444.82 29.47 L445.25 30.81 L445.68 32.14 L446.09 33.46 L446.5 34.78 L446.89 36.09 L447.27 37.39 L447.65 38.68 L448.01 39.97 L448.37 41.25 L448.71 42.53 L449.05 43.8 L449.38 45.07 L449.7 46.33 L450.02 47.59 L450.33 48.85 L450.63 50.11 L450.92 51.36 L451.21 52.61 L451.49 53.86 L451.76 55.1 L452.03 56.35 L452.3 57.6 L452.55 58.85 L452.81 60.1 L453.06 61.35 L453.3 62.6 L453.55 63.85 L453.78 65.11 L454.02 66.37 L454.25 67.63 L454.48 68.9 L454.71 70.17 L454.93 71.45 L455.16 72.73 L455.38 74.01 L455.6 75.31 L455.81 76.61 L456.03 77.91 L456.25 79.23 L456.47 80.55 L456.69 81.88 L456.91 83.21 L457.13 84.55 L457.35 85.89 L457.58 87.24 L457.81 88.59 L458.04 89.95 L458.28 91.3 L458.52 92.66 L458.77 94.02 L459.02 95.38 L459.29 96.74 L459.56 98.09 L459.83 99.45 L460.12 100.8 L460.41 102.15 L460.72 103.5 L461.03 104.85 L461.36 106.19 L461.69 107.52 L462.04 108.85 L462.4 110.17 L462.77 111.49 L463.16 112.79 L463.56 114.09 L463.98 115.38 L464.41 116.66 L464.86 117.93 L465.32 119.19 L465.8 120.44 L466.3 121.68 L466.81 122.9 L467.35 124.11 L467.9 125.31 L468.47 126.49 L469.06 127.66 L469.68 128.81 L470.31 129.94 L470.97 131.06 L471.65 132.16 L472.35 133.24 L473.08 134.31 L473.83 135.35 L474.6 136.38 L475.41 137.38 L476.23 138.36 L477.08 139.33 L477.96 140.26 L478.86 141.18 L479.79 142.08 L480.73 142.95 L481.71 143.81 L482.7 144.64 L483.71 145.45 L484.74 146.24 L485.8 147 L486.87 147.75 L487.96 148.47 L489.07 149.17 L490.19 149.85 L491.34 150.5 L492.5 151.14 L493.67 151.75 L494.86 152.34 L496.06 152.91 L497.27 153.45 L498.5 153.97 L499.74 154.47 L500.99 154.95 L502.26 155.4 L503.53 155.84 L504.81 156.25 L506.1 156.63 L507.4 157 L508.7 157.34 L510.01 157.66 L511.33 157.95 L512.66 158.23 L513.99 158.48 L515.32 158.7 L516.66 158.91 L518 159.09 L519.34 159.25 L520.68 159.38 L522.03 159.49 L523.37 159.58 L524.72 159.64 L526.06 159.69 L527.4 159.7 L528.74 159.7 L530.08 159.67 L531.41 159.62" fill="none" stroke="#d40000" stroke-width="2" stroke-linejoin="round"/>
<path d="M339.52 160.17 L339.76 160.16 L340 160.16 L340.24 160.15 L340.48 160.14 L340.72 160.14 L340.96 160.13 L341.2 160.13 L341.44 160.12 L341.68 160.12 L341.92 160.11 L342.16 160.11 L342.4 160.1 L342.64 160.09 L342.89 160.09 L343.13 160.08 L343.37 160.08 L343.61 160.07 L343.85 160.06 L344.09 160.06 L344.33 160.05 L344.57 160.05 L344.81 160.04 L345.05 160.04 L345.29 160.03 L345.53 160.02 L345.77 160.02 L346.01 160.01 L346.25 160.01 L346.49 160 L346.73 159.99 L346.97 159.99 L347.21 159.98 L347.45 159.98 L347.69 159.97 L347.93 159.96 L348.17 159.96 L348.41 159.95 L348.65 159.95 L348.89 159.94 L349.13 159.93 L349.37 159.93 L349.61 159.92 L349.85 159.92 L350.09 159.91 L350.33 159.9 L350.57 159.9 L350.81 159.89 L351.05 159.88 L351.29 159.88 L351.53 159.87 L351.78 159.87 L352.02 159.86 L352.26 159.85 L352.5 159.85 L352.74 159.84 L352.98 159.83 L353.22 159.83 L353.46 159.82 L353.7 159.81 L353.94 159.81 L354.18 159.8 L354.42 159.79 L354.66 159.79 L354.9 159.78 L355.14 159.77 L355.38 159.77 L355.62 159.76 L355.86 159.76 L356.1 159.75 L356.34 159.74 L356.58 159.73 L356.82 159.73 L357.06 159.72 L357.3 159.71 L357.54 159.71 L357.78 159.7 L358.02 159.69 L358.26 159.69 L358.5 159.68 L358.74 159.67 L358.98 159.67 L359.22 159.66 L359.46 159.65 L359.7 159.65 L359.94 159.64 L360.18 159.63 L360.43 159.62 L360.67 159.62 L360.91 159.61 L361.15 159.6 L361.39 159.6 L361.63 159.59 L361.87 159.58 L362.11 159.57 L362.35 159.57 L362.59 159.56 L362.83 159.55 L363.07 159.54 L363.31 159.54 L363.55 159.53 L363.79 159.52 L364.03 159.51 L364.27 159.51 L364.51 159.5 L364.75 159.49 L364.99 159.48 L365.23 159.47 L365.47 159.47 L365.71 159.46 L365.95 159.45 L366.19 159.44 L366.43 159.43 L366.67 159.43 L366.91 159.42 L367.15 159.41 L367.39 159.4 L367.63 159.39 L367.87 159.38 L368.11 159.38 L368.35 159.37 L368.59 159.36 L368.83 159.35 L369.07 159.34 L369.32 159.33 L369.56 159.33 L369.8 159.32 L370.04 159.31 L370.28 159.3 L370.52 159.29 L370.76 159.28 L371 159.27 L371.24 159.26 L371.48 159.25 L371.72 159.24 L371.96 159.24 L372.2 159.23 L372.44 159.22 L372.68 159.21 L372.92 159.2 L373.16 159.19 L373.4 159.18 L373.64 159.17 L373.88 159.16 L374.12 159.15 L374.36 159.14 L374.6 159.13 L374.84 159.12 L375.08 159.11 L375.32 159.1 L375.56 159.09 L375.8 159.08 L376.04 159.07 L376.28 159.06 L376.52 159.05 L376.76 159.04 L377 159.02 L377.24 159.01 L377.48 159 L377.72 158.99 L377.97 158.98 L378.21 158.97 L378.45 158.96 L378.69 158.95 L378.93 158.93 L379.17 158.92 L379.41 158.91 L379.65 158.9 L379.89 158.89 L380.13 158.87 L380.37 158.86 L380.61 158.85 L380.85 158.84 L381.09 158.82 L381.33 158.81 L381.57 158.8 L381.81 158.79 L382.05 158.77 L382.29 158.76 L382.53 158.75 L382.77 158.73 L383.01 158.72 L383.25 158.71 L383.49 158.69 L383.73 158.68 L383.97 158.66 L384.21 158.65 L384.45 158.63 L384.69 158.62 L384.93 158.6 L385.17 158.59 L385.41 158.57 L385.65 158.56 L385.89 158.54 L386.13 158.53 L386.37 158.51 L386.61 158.49 L386.86 158.48 L387.1 158.46 L387.34 158.44 L387.58 158.43 L387.82 158.41 L388.06 158.39 L388.3 158.37 L388.54 158.35 L388.78 158.34 L389.02 158.32 L389.26 158.3 L389.5 158.28 L389.74 158.26 L389.98 158.24 L390.22 158.22 L390.46 158.2 L390.7 158.18 L390.94 158.16 L391.18 158.14 L391.42 158.12 L391.66 158.09 L391.9 158.07 L392.14 158.05 L392.38 158.03 L392.62 158 L392.86 157.98 L393.1 157.95 L393.34 157.93 L393.58 157.91 L393.82 157.88 L394.06 157.85 L394.3 157.83 L394.54 157.8 L394.78 157.78 L395.02 157.75 L395.26 157.72 L395.51 157.69 L395.75 157.66 L395.99 157.63 L396.23 157.6 L396.47 157.57 L396.71 157.54 L396.95 157.51 L397.19 157.48 L397.43 157.44 L397.67 157.41 L397.91 157.38 L398.15 157.34 L398.39 157.3 L398.63 157.27 L398.87 157.23 L399.11 157.19 L399.35 157.15 L399.59 157.11 L399.83 157.07 L400.07 157.03 L400.31 156.99 L400.55 156.95 L400.79 156.9 L401.03 156.86 L401.27 156.81 L401.51 156.76 L401.75 156.72 L401.99 156.67 L402.23 156.62 L402.47 156.56 L402.71 156.51 L402.95 156.46 L403.19 156.4 L403.43 156.34 L403.67 156.28 L403.91 156.22 L404.15 156.16 L404.4 156.1 L404.64 156.04 L404.88 155.97 L405.12 155.9 L405.36 155.83 L405.6 155.76 L405.84 155.68 L406.08 155.61 L406.32 155.53 L406.56 155.45 L406.8 155.37 L407.04 155.28 L407.28 155.19 L407.52 155.1 L407.76 155.01 L408 154.91 L408.24 154.81 L408.48 154.71 L408.72 154.61 L408.96 154.5 L409.2 154.39 L409.44 154.27 L409.68 154.15 L409.92 154.03 L410.16 153.9 L410.4 153.77 L410.64 153.63 L410.88 153.49 L411.12 153.34 L411.36 153.19 L411.6 153.04 L411.84 152.87 L412.08 152.71 L412.32 152.53 L412.56 152.35 L412.8 152.16 L413.05 151.97 L413.29 151.76 L413.53 151.55 L413.77 151.33 L414.01 151.1 L414.25 150.86 L414.49 150.62 L414.73 150.36 L414.97 150.09 L415.21 149.81 L415.45 149.51 L415.69 149.21 L415.93 148.89 L416.17 148.55 L416.41 148.2 L416.65 147.83 L416.89 147.45 L417.13 147.05 L417.37 146.62 L417.61 146.18 L417.85 145.72 L418.09 145.23 L418.33 144.71 L418.57 144.17 L418.81 143.6 L419.05 143 L419.29 142.37 L419.53 141.7 L419.77 141 L420.01 140.26 L420.25 139.47 L420.49 138.64 L420.73 137.76 L420.97 136.83 L421.21 135.84 L421.45 134.79 L421.69 133.68 L421.94 132.5 L422.18 131.24 L422.42 129.9 L422.66 128.48 L422.9 126.97 L423.14 125.35 L423.38 123.63 L423.62 121.8 L423.86 119.84 L424.1 117.76 L424.34 115.53 L424.58 113.16 L424.82 110.62 L425.06 107.92 L425.3 105.04 L425.54 101.98 L425.78 98.72 L426.02 95.26 L426.26 91.59 L426.5 87.71 L426.74 83.63 L426.98 79.33 L427.22 74.84 L427.46 70.17 L427.7 65.34 L427.94 60.39 L428.18 55.35 L428.42 50.27 L428.66 45.23 L428.9 40.29 L429.14 35.55 L429.38 31.09 L429.62 27.01 L429.86 23.41 L430.1 20.4 L430.34 18.05 L430.59 16.44 L430.83 15.61 L431.07 15.59 L431.31 16.32 L431.55 17.76 L431.79 19.88 L432.03 22.61 L432.27 25.89 L432.51 29.61 L432.75 33.7 L432.99 38.07 L433.23 42.64 L433.47 47.32 L433.71 52.06 L433.95 56.79 L434.19 61.46 L434.43 66.03 L434.67 70.47 L434.91 74.76 L435.15 78.89 L435.39 82.84 L435.63 86.6 L435.87 90.18 L436.11 93.57 L436.35 96.78 L436.59 99.82 L436.83 102.68 L437.07 105.38 L437.31 107.92 L437.55 110.32 L437.79 112.57 L438.03 114.7 L438.27 116.7 L438.51 118.58 L438.75 120.35 L438.99 122.03 L439.23 123.6 L439.48 125.09 L439.72 126.49 L439.96 127.81 L440.2 129.06 L440.44 130.23 L440.68 131.35 L440.92 132.4 L441.16 133.4 L441.4 134.35 L441.64 135.24 L441.88 136.09 L442.12 136.9 L442.36 137.67 L442.6 138.39 L442.84 139.08 L443.08 139.74 L443.32 140.37 L443.56 140.96 L443.8 141.53 L444.04 142.07 L444.28 142.59 L444.52 143.08 L444.76 143.55 L445 144 L445.24 144.44 L445.48 144.85 L445.72 145.24 L445.96 145.62 L446.2 145.98 L446.44 146.33 L446.68 146.66 L446.92 146.98 L447.16 147.29 L447.4 147.58 L447.64 147.86 L447.88 148.13 L448.12 148.39 L448.37 148.65 L448.61 148.89 L448.85 149.12 L449.09 149.34 L449.33 149.56 L449.57 149.77 L449.81 149.97 L450.05 150.16 L450.29 150.35 L450.53 150.53 L450.77 150.71 L451.01 150.87 L451.25 151.04 L451.49 151.19 L451.73 151.35 L451.97 151.49 L452.21 151.63 L452.45 151.77 L452.69 151.91 L452.93 152.03 L453.17 152.16 L453.41 152.28 L453.65 152.4 L453.89 152.51 L454.13 152.62 L454.37 152.73 L454.61 152.83 L454.85 152.93 L455.09 153.03 L455.33 153.13 L455.57 153.22 L455.81 153.31 L456.05 153.39 L456.29 153.48 L456.53 153.56 L456.77 153.64 L457.02 153.72 L457.26 153.79 L457.5 153.87 L457.74 153.94 L457.98 154.01 L458.22 154.07 L458.46 154.14 L458.7 154.2 L458.94 154.27 L459.18 154.33 L459.42 154.38 L459.66 154.44 L459.9 154.5 L460.14 154.55 L460.38 154.61 L460.62 154.66 L460.86 154.71 L461.1 154.76 L461.34 154.81 L461.58 154.85 L461.82 154.9 L462.06 154.94 L462.3 154.99 L462.54 155.03 L462.78 155.07 L463.02 155.11 L463.26 155.15 L463.5 155.19 L463.74 155.23 L463.98 155.26 L464.22 155.3 L464.46 155.33 L464.7 155.37 L464.94 155.4 L465.18 155.43 L465.42 155.47 L465.66 155.5 L465.91 155.53 L466.15 155.56 L466.39 155.59 L466.63 155.61 L466.87 155.64 L467.11 155.67 L467.35 155.7 L467.59 155.72 L467.83 155.75 L468.07 155.77 L468.31 155.8 L468.55 155.82 L468.79 155.84 L469.03 155.86 L469.27 155.89 L469.51 155.91 L469.75 155.93 L469.99 155.95 L470.23 155.97 L470.47 155.99 L470.71 156.01 L470.95 156.03 L471.19 156.05 L471.43 156.07 L471.67 156.08 L471.91 156.1 L472.15 156.12 L472.39 156.13 L472.63 156.15 L472.87 156.17 L473.11 156.18 L473.35 156.2 L473.59 156.21 L473.83 156.23 L474.07 156.24 L474.31 156.26 L474.56 156.27 L474.8 156.28 L475.04 156.3 L475.28 156.31 L475.52 156.32 L475.76 156.33 L476 156.35 L476.24 156.36 L476.48 156.37 L476.72 156.38 L476.96 156.39 L477.2 156.4 L477.44 156.41 L477.68 156.42 L477.92 156.43 L478.16 156.44 L478.4 156.45 L478.64 156.46 L478.88 156.47 L479.12 156.48 L479.36 156.49 L479.6 156.5 L479.84 156.51 L480.08 156.51 L480.32 156.52 L480.56 156.53 L480.8 156.54 L481.04 156.55 L481.28 156.55 L481.52 156.56 L481.76 156.57 L482 156.58 L482.24 156.58 L482.48 156.59 L482.72 156.59 L482.96 156.6 L483.2 156.61 L483.45 156.61 L483.69 156.62 L483.93 156.63 L484.17 156.63 L484.41 156.64 L484.65 156.64 L484.89 156.65 L485.13 156.65 L485.37 156.66 L485.61 156.66 L485.85 156.67 L486.09 156.67 L486.33 156.68 L486.57 156.68 L486.81 156.68 L487.05 156.69 L487.29 156.69 L487.53 156.7 L487.77 156.7 L488.01 156.7 L488.25 156.71 L488.49 156.71 L488.73 156.71 L488.97 156.72 L489.21 156.72 L489.45 156.72 L489.69 156.73 L489.93 156.73 L490.17 156.73 L490.41 156.74 L490.65 156.74 L490.89 156.74 L491.13 156.74 L491.37 156.75 L491.61 156.75 L491.85 156.75 L492.1 156.75 L492.34 156.76 L492.58 156.76 L492.82 156.76 L493.06 156.76 L493.3 156.76 L493.54 156.77 L493.78 156.77 L494.02 156.77 L494.26 156.77 L494.5 156.77 L494.74 156.77 L494.98 156.77 L495.22 156.78 L495.46 156.78 L495.7 156.78 L495.94 156.78 L496.18 156.78 L496.42 156.78 L496.66 156.78 L496.9 156.78 L497.14 156.78 L497.38 156.79 L497.62 156.79 L497.86 156.79 L498.1 156.79 L498.34 156.79 L498.58 156.79 L498.82 156.79 L499.06 156.79 L499.3 156.79 L499.54 156.79 L499.78 156.79 L500.02 156.79 L500.26 156.79 L500.5 156.79 L500.74 156.79 L500.99 156.79 L501.23 156.79 L501.47 156.79 L501.71 156.79 L501.95 156.79 L502.19 156.79 L502.43 156.79 L502.67 156.79 L502.91 156.79 L503.15 156.79 L503.39 156.79 L503.63 156.79 L503.87 156.79 L504.11 156.79 L504.35 156.79 L504.59 156.79 L504.83 156.79 L505.07 156.78 L505.31 156.78 L505.55 156.78 L505.79 156.78 L506.03 156.78 L506.27 156.78 L506.51 156.78 L506.75 156.78 L506.99 156.78 L507.23 156.78 L507.47 156.78 L507.71 156.77 L507.95 156.77 L508.19 156.77 L508.43 156.77 L508.67 156.77 L508.91 156.77 L509.15 156.77 L509.39 156.77 L509.64 156.77 L509.88 156.76 L510.12 156.76 L510.36 156.76 L510.6 156.76 L510.84 156.76 L511.08 156.76 L511.32 156.76 L511.56 156.75 L511.8 156.75 L512.04 156.75 L512.28 156.75 L512.52 156.75 L512.76 156.75 L513 156.74 L513.24 156.74 L513.48 156.74 L513.72 156.74 L513.96 156.74 L514.2 156.74 L514.44 156.73 L514.68 156.73 L514.92 156.73 L515.16 156.73 L515.4 156.73 L515.64 156.73 L515.88 156.72 L516.12 156.72 L516.36 156.72 L516.6 156.72 L516.84 156.72 L517.08 156.71 L517.32 156.71 L517.56 156.71 L517.8 156.71 L518.04 156.71 L518.28 156.7 L518.53 156.7 L518.77 156.7 L519.01 156.7 L519.25 156.69 L519.49 156.69 L519.73 156.69 L519.97 156.69 L520.21 156.69 L520.45 156.68 L520.69 156.68 L520.93 156.68 L521.17 156.68 L521.41 156.67 L521.65 156.67 L521.89 156.67 L522.13 156.67 L522.37 156.66 L522.61 156.66 L522.85 156.66 L523.09 156.66 L523.33 156.65 L523.57 156.65 L523.81 156.65 L524.05 156.65 L524.29 156.64 L524.53 156.64 L524.77 156.64 L525.01 156.64 L525.25 156.63 L525.49 156.63 L525.73 156.63 L525.97 156.63 L526.21 156.62 L526.45 156.62 L526.69 156.62 L526.93 156.62 L527.18 156.61 L527.42 156.61 L527.66 156.61 L527.9 156.61 L528.14 156.6 L528.38 156.6 L528.62 156.6 L528.86 156.59 L529.1 156.59 L529.34 156.59 L529.58 156.59 L529.82 156.58 L530.06 156.58 L530.3 156.58 L530.54 156.57 L530.78 156.57 L531.02 156.57 L531.26 156.57 L531.5 156.56" fill="none" stroke="#1f3fff" stroke-width="2"/>
<g fill="#000"><circle cx="339.52" cy="160.17" r="2.05"/><circle cx="340.02" cy="160.16" r="2.05"/><circle cx="340.52" cy="160.14" r="2.05"/><circle cx="341.02" cy="160.13" r="2.05"/><circle cx="341.53" cy="160.12" r="2.05"/><circle cx="342.03" cy="160.11" r="2.05"/><circle cx="342.53" cy="160.1" r="2.05"/><circle cx="343.03" cy="160.08" r="2.05"/><circle cx="343.53" cy="160.07" r="2.05"/><circle cx="344.03" cy="160.06" r="2.05"/><circle cx="344.53" cy="160.05" r="2.05"/><circle cx="345.03" cy="160.04" r="2.05"/><circle cx="345.54" cy="160.02" r="2.05"/><circle cx="346.04" cy="160.01" r="2.05"/><circle cx="346.54" cy="160" r="2.05"/><circle cx="347.04" cy="159.99" r="2.05"/><circle cx="347.54" cy="159.97" r="2.05"/><circle cx="348.04" cy="159.96" r="2.05"/><circle cx="348.54" cy="159.95" r="2.05"/><circle cx="349.04" cy="159.94" r="2.05"/><circle cx="349.55" cy="159.92" r="2.05"/><circle cx="350.05" cy="159.91" r="2.05"/><circle cx="350.55" cy="159.9" r="2.05"/><circle cx="351.05" cy="159.88" r="2.05"/><circle cx="351.55" cy="159.87" r="2.05"/><circle cx="352.05" cy="159.86" r="2.05"/><circle cx="352.55" cy="159.84" r="2.05"/><circle cx="353.05" cy="159.83" r="2.05"/><circle cx="353.56" cy="159.82" r="2.05"/><circle cx="354.06" cy="159.8" r="2.05"/><circle cx="354.56" cy="159.79" r="2.05"/><circle cx="355.06" cy="159.78" r="2.05"/><circle cx="355.56" cy="159.76" r="2.05"/><circle cx="356.06" cy="159.75" r="2.05"/><circle cx="356.56" cy="159.74" r="2.05"/><circle cx="357.06" cy="159.72" r="2.05"/><circle cx="357.57" cy="159.71" r="2.05"/><circle cx="358.07" cy="159.69" r="2.05"/><circle cx="358.57" cy="159.68" r="2.05"/><circle cx="359.07" cy="159.66" r="2.05"/><circle cx="359.57" cy="159.65" r="2.05"/><circle cx="360.07" cy="159.63" r="2.05"/><circle cx="360.57" cy="159.62" r="2.05"/><circle cx="361.07" cy="159.6" r="2.05"/><circle cx="361.58" cy="159.59" r="2.05"/><circle cx="362.08" cy="159.57" r="2.05"/><circle cx="362.58" cy="159.56" r="2.05"/><circle cx="363.08" cy="159.54" r="2.05"/><circle cx="363.58" cy="159.53" r="2.05"/><circle cx="364.08" cy="159.51" r="2.05"/><circle cx="364.58" cy="159.49" r="2.05"/><circle cx="365.08" cy="159.48" r="2.05"/><circle cx="365.59" cy="159.46" r="2.05"/><circle cx="366.09" cy="159.45" r="2.05"/><circle cx="366.59" cy="159.43" r="2.05"/><circle cx="367.09" cy="159.41" r="2.05"/><circle cx="367.59" cy="159.39" r="2.05"/><circle cx="368.09" cy="159.38" r="2.05"/><circle cx="368.59" cy="159.36" r="2.05"/><circle cx="369.09" cy="159.34" r="2.05"/><circle cx="369.6" cy="159.32" r="2.05"/><circle cx="370.1" cy="159.31" r="2.05"/><circle cx="370.6" cy="159.29" r="2.05"/><circle cx="371.1" cy="159.27" r="2.05"/><circle cx="371.6" cy="159.25" r="2.05"/><circle cx="372.1" cy="159.23" r="2.05"/><circle cx="372.6" cy="159.21" r="2.05"/><circle cx="373.1" cy="159.19" r="2.05"/><circle cx="373.61" cy="159.17" r="2.05"/><circle cx="374.11" cy="159.15" r="2.05"/><circle cx="374.61" cy="159.13" r="2.05"/><circle cx="375.11" cy="159.11" r="2.05"/><circle cx="375.61" cy="159.09" r="2.05"/><circle cx="376.11" cy="159.06" r="2.05"/><circle cx="376.61" cy="159.04" r="2.05"/><circle cx="377.11" cy="159.02" r="2.05"/><circle cx="377.62" cy="159" r="2.05"/><circle cx="378.12" cy="158.97" r="2.05"/><circle cx="378.62" cy="158.95" r="2.05"/><circle cx="379.12" cy="158.93" r="2.05"/><circle cx="379.62" cy="158.9" r="2.05"/><circle cx="380.12" cy="158.88" r="2.05"/><circle cx="380.62" cy="158.85" r="2.05"/><circle cx="381.12" cy="158.82" r="2.05"/><circle cx="381.63" cy="158.8" r="2.05"/><circle cx="382.13" cy="158.77" r="2.05"/><circle cx="382.63" cy="158.74" r="2.05"/><circle cx="383.13" cy="158.71" r="2.05"/><circle cx="383.63" cy="158.68" r="2.05"/><circle cx="384.13" cy="158.65" r="2.05"/><circle cx="384.63" cy="158.62" r="2.05"/><circle cx="385.13" cy="158.59" r="2.05"/><circle cx="385.64" cy="158.56" r="2.05"/><circle cx="386.14" cy="158.53" r="2.05"/><circle cx="386.64" cy="158.49" r="2.05"/><circle cx="387.14" cy="158.46" r="2.05"/><circle cx="387.64" cy="158.42" r="2.05"/><circle cx="388.14" cy="158.38" r="2.05"/><circle cx="388.64" cy="158.35" r="2.05"/><circle cx="389.14" cy="158.31" r="2.05"/><circle cx="389.65" cy="158.27" r="2.05"/><circle cx="390.15" cy="158.23" r="2.05"/><circle cx="390.65" cy="158.18" r="2.05"/><circle cx="391.15" cy="158.14" r="2.05"/><circle cx="391.65" cy="158.09" r="2.05"/><circle cx="392.15" cy="158.05" r="2.05"/><circle cx="392.65" cy="158" r="2.05"/><circle cx="393.15" cy="157.95" r="2.05"/><circle cx="393.66" cy="157.9" r="2.05"/><circle cx="394.16" cy="157.84" r="2.05"/><circle cx="394.66" cy="157.79" r="2.05"/><circle cx="395.16" cy="157.73" r="2.05"/><circle cx="395.66" cy="157.67" r="2.05"/><circle cx="396.16" cy="157.61" r="2.05"/><circle cx="396.66" cy="157.55" r="2.05"/><circle cx="397.16" cy="157.48" r="2.05"/><circle cx="397.67" cy="157.41" r="2.05"/><circle cx="398.17" cy="157.34" r="2.05"/><circle cx="398.67" cy="157.26" r="2.05"/><circle cx="399.17" cy="157.18" r="2.05"/><circle cx="399.67" cy="157.1" r="2.05"/><circle cx="400.17" cy="157.01" r="2.05"/><circle cx="400.67" cy="156.92" r="2.05"/><circle cx="401.17" cy="156.83" r="2.05"/><circle cx="401.68" cy="156.73" r="2.05"/><circle cx="402.18" cy="156.63" r="2.05"/><circle cx="402.68" cy="156.52" r="2.05"/><circle cx="403.18" cy="156.4" r="2.05"/><circle cx="403.68" cy="156.28" r="2.05"/><circle cx="404.18" cy="156.16" r="2.05"/><circle cx="404.68" cy="156.02" r="2.05"/><circle cx="405.18" cy="155.88" r="2.05"/><circle cx="405.69" cy="155.73" r="2.05"/><circle cx="406.19" cy="155.57" r="2.05"/><circle cx="406.69" cy="155.4" r="2.05"/><circle cx="407.19" cy="155.23" r="2.05"/><circle cx="407.69" cy="155.04" r="2.05"/><circle cx="408.19" cy="154.83" r="2.05"/><circle cx="408.69" cy="154.62" r="2.05"/><circle cx="409.19" cy="154.39" r="2.05"/><circle cx="409.7" cy="154.14" r="2.05"/><circle cx="410.2" cy="153.88" r="2.05"/><circle cx="410.7" cy="153.6" r="2.05"/><circle cx="411.2" cy="153.3" r="2.05"/><circle cx="411.7" cy="152.97" r="2.05"/><circle cx="412.2" cy="152.62" r="2.05"/><circle cx="412.7" cy="152.24" r="2.05"/><circle cx="413.2" cy="151.83" r="2.05"/><circle cx="413.71" cy="151.39" r="2.05"/><circle cx="414.21" cy="150.9" r="2.05"/><circle cx="414.71" cy="150.38" r="2.05"/><circle cx="415.21" cy="149.8" r="2.05"/><circle cx="415.71" cy="149.18" r="2.05"/><circle cx="416.21" cy="148.49" r="2.05"/><circle cx="416.71" cy="147.73" r="2.05"/><circle cx="417.21" cy="146.9" r="2.05"/><circle cx="417.72" cy="145.98" r="2.05"/><circle cx="418.22" cy="144.96" r="2.05"/><circle cx="418.72" cy="143.83" r="2.05"/><circle cx="419.22" cy="142.56" r="2.05"/><circle cx="419.72" cy="141.15" r="2.05"/><circle cx="420.22" cy="139.57" r="2.05"/><circle cx="420.72" cy="137.8" r="2.05"/><circle cx="421.22" cy="135.79" r="2.05"/><circle cx="421.73" cy="133.53" r="2.05"/><circle cx="422.23" cy="130.96" r="2.05"/><circle cx="422.73" cy="128.03" r="2.05"/><circle cx="423.23" cy="124.7" r="2.05"/><circle cx="423.73" cy="120.88" r="2.05"/><circle cx="424.23" cy="116.52" r="2.05"/><circle cx="424.73" cy="111.53" r="2.05"/><circle cx="425.23" cy="105.83" r="2.05"/><circle cx="425.74" cy="99.32" r="2.05"/><circle cx="426.24" cy="91.95" r="2.05"/><circle cx="426.74" cy="83.66" r="2.05"/><circle cx="427.24" cy="74.48" r="2.05"/><circle cx="427.74" cy="64.54" r="2.05"/><circle cx="428.24" cy="54.07" r="2.05"/><circle cx="428.74" cy="43.55" r="2.05"/><circle cx="429.24" cy="33.62" r="2.05"/><circle cx="429.75" cy="25.11" r="2.05"/><circle cx="430.25" cy="18.92" r="2.05"/><circle cx="430.75" cy="15.78" r="2.05"/><circle cx="431.25" cy="16.08" r="2.05"/><circle cx="431.75" cy="19.53" r="2.05"/><circle cx="432.25" cy="25.68" r="2.05"/><circle cx="432.75" cy="33.81" r="2.05"/><circle cx="433.25" cy="43.16" r="2.05"/><circle cx="433.76" cy="53" r="2.05"/><circle cx="434.26" cy="62.77" r="2.05"/><circle cx="434.76" cy="72.08" r="2.05"/><circle cx="435.26" cy="80.72" r="2.05"/><circle cx="435.76" cy="88.57" r="2.05"/><circle cx="436.26" cy="95.61" r="2.05"/><circle cx="436.76" cy="101.88" r="2.05"/><circle cx="437.26" cy="107.43" r="2.05"/><circle cx="437.77" cy="112.33" r="2.05"/><circle cx="438.27" cy="116.65" r="2.05"/><circle cx="438.77" cy="120.46" r="2.05"/><circle cx="439.27" cy="123.82" r="2.05"/><circle cx="439.77" cy="126.8" r="2.05"/><circle cx="440.27" cy="129.44" r="2.05"/><circle cx="440.77" cy="131.78" r="2.05"/><circle cx="441.27" cy="133.87" r="2.05"/><circle cx="441.78" cy="135.74" r="2.05"/><circle cx="442.28" cy="137.41" r="2.05"/><circle cx="442.78" cy="138.91" r="2.05"/><circle cx="443.28" cy="140.27" r="2.05"/><circle cx="443.78" cy="141.49" r="2.05"/><circle cx="444.28" cy="142.59" r="2.05"/><circle cx="444.78" cy="143.6" r="2.05"/><circle cx="445.28" cy="144.51" r="2.05"/><circle cx="445.79" cy="145.34" r="2.05"/><circle cx="446.29" cy="146.1" r="2.05"/><circle cx="446.79" cy="146.8" r="2.05"/><circle cx="447.29" cy="147.44" r="2.05"/><circle cx="447.79" cy="148.03" r="2.05"/><circle cx="448.29" cy="148.57" r="2.05"/><circle cx="448.79" cy="149.07" r="2.05"/><circle cx="449.29" cy="149.53" r="2.05"/><circle cx="449.8" cy="149.96" r="2.05"/><circle cx="450.3" cy="150.36" r="2.05"/><circle cx="450.8" cy="150.73" r="2.05"/><circle cx="451.3" cy="151.07" r="2.05"/><circle cx="451.8" cy="151.39" r="2.05"/><circle cx="452.3" cy="151.69" r="2.05"/><circle cx="452.8" cy="151.97" r="2.05"/><circle cx="453.3" cy="152.23" r="2.05"/><circle cx="453.81" cy="152.47" r="2.05"/><circle cx="454.31" cy="152.7" r="2.05"/><circle cx="454.81" cy="152.91" r="2.05"/><circle cx="455.31" cy="153.12" r="2.05"/><circle cx="455.81" cy="153.31" r="2.05"/><circle cx="456.31" cy="153.48" r="2.05"/><circle cx="456.81" cy="153.65" r="2.05"/><circle cx="457.31" cy="153.81" r="2.05"/><circle cx="457.82" cy="153.96" r="2.05"/><circle cx="458.32" cy="154.1" r="2.05"/><circle cx="458.82" cy="154.23" r="2.05"/><circle cx="459.32" cy="154.36" r="2.05"/><circle cx="459.82" cy="154.48" r="2.05"/><circle cx="460.32" cy="154.59" r="2.05"/><circle cx="460.82" cy="154.7" r="2.05"/><circle cx="461.32" cy="154.8" r="2.05"/><circle cx="461.83" cy="154.9" r="2.05"/><circle cx="462.33" cy="154.99" r="2.05"/><circle cx="462.83" cy="155.08" r="2.05"/><circle cx="463.33" cy="155.16" r="2.05"/><circle cx="463.83" cy="155.24" r="2.05"/><circle cx="464.33" cy="155.31" r="2.05"/><circle cx="464.83" cy="155.39" r="2.05"/><circle cx="465.33" cy="155.45" r="2.05"/><circle cx="465.84" cy="155.52" r="2.05"/><circle cx="466.34" cy="155.58" r="2.05"/><circle cx="466.84" cy="155.64" r="2.05"/><circle cx="467.34" cy="155.69" r="2.05"/><circle cx="467.84" cy="155.75" r="2.05"/><circle cx="468.34" cy="155.8" r="2.05"/><circle cx="468.84" cy="155.85" r="2.05"/><circle cx="469.34" cy="155.89" r="2.05"/><circle cx="469.85" cy="155.94" r="2.05"/><circle cx="470.35" cy="155.98" r="2.05"/><circle cx="470.85" cy="156.02" r="2.05"/><circle cx="471.35" cy="156.06" r="2.05"/><circle cx="471.85" cy="156.1" r="2.05"/><circle cx="472.35" cy="156.13" r="2.05"/><circle cx="472.85" cy="156.17" r="2.05"/><circle cx="473.35" cy="156.2" r="2.05"/><circle cx="473.86" cy="156.23" r="2.05"/><circle cx="474.36" cy="156.26" r="2.05"/><circle cx="474.86" cy="156.29" r="2.05"/><circle cx="475.36" cy="156.31" r="2.05"/><circle cx="475.86" cy="156.34" r="2.05"/><circle cx="476.36" cy="156.36" r="2.05"/><circle cx="476.86" cy="156.39" r="2.05"/><circle cx="477.36" cy="156.41" r="2.05"/><circle cx="477.87" cy="156.43" r="2.05"/><circle cx="478.37" cy="156.45" r="2.05"/><circle cx="478.87" cy="156.47" r="2.05"/><circle cx="479.37" cy="156.49" r="2.05"/><circle cx="479.87" cy="156.51" r="2.05"/><circle cx="480.37" cy="156.52" r="2.05"/><circle cx="480.87" cy="156.54" r="2.05"/><circle cx="481.37" cy="156.56" r="2.05"/><circle cx="481.88" cy="156.57" r="2.05"/><circle cx="482.38" cy="156.59" r="2.05"/><circle cx="482.88" cy="156.6" r="2.05"/><circle cx="483.38" cy="156.61" r="2.05"/><circle cx="483.88" cy="156.62" r="2.05"/><circle cx="484.38" cy="156.64" r="2.05"/><circle cx="484.88" cy="156.65" r="2.05"/><circle cx="485.38" cy="156.66" r="2.05"/><circle cx="485.89" cy="156.67" r="2.05"/><circle cx="486.39" cy="156.68" r="2.05"/><circle cx="486.89" cy="156.69" r="2.05"/><circle cx="487.39" cy="156.69" r="2.05"/><circle cx="487.89" cy="156.7" r="2.05"/><circle cx="488.39" cy="156.71" r="2.05"/><circle cx="488.89" cy="156.72" r="2.05"/><circle cx="489.39" cy="156.72" r="2.05"/><circle cx="489.9" cy="156.73" r="2.05"/><circle cx="490.4" cy="156.74" r="2.05"/><circle cx="490.9" cy="156.74" r="2.05"/><circle cx="491.4" cy="156.75" r="2.05"/><circle cx="491.9" cy="156.75" r="2.05"/><circle cx="492.4" cy="156.76" r="2.05"/><circle cx="492.9" cy="156.76" r="2.05"/><circle cx="493.4" cy="156.76" r="2.05"/><circle cx="493.91" cy="156.77" r="2.05"/><circle cx="494.41" cy="156.77" r="2.05"/><circle cx="494.91" cy="156.77" r="2.05"/><circle cx="495.41" cy="156.78" r="2.05"/><circle cx="495.91" cy="156.78" r="2.05"/><circle cx="496.41" cy="156.78" r="2.05"/><circle cx="496.91" cy="156.78" r="2.05"/><circle cx="497.41" cy="156.79" r="2.05"/><circle cx="497.92" cy="156.79" r="2.05"/><circle cx="498.42" cy="156.79" r="2.05"/><circle cx="498.92" cy="156.79" r="2.05"/><circle cx="499.42" cy="156.79" r="2.05"/><circle cx="499.92" cy="156.79" r="2.05"/><circle cx="500.42" cy="156.79" r="2.05"/><circle cx="500.92" cy="156.79" r="2.05"/><circle cx="501.42" cy="156.79" r="2.05"/><circle cx="501.93" cy="156.79" r="2.05"/><circle cx="502.43" cy="156.79" r="2.05"/><circle cx="502.93" cy="156.79" r="2.05"/><circle cx="503.43" cy="156.79" r="2.05"/><circle cx="503.93" cy="156.79" r="2.05"/><circle cx="504.43" cy="156.79" r="2.05"/><circle cx="504.93" cy="156.78" r="2.05"/><circle cx="505.43" cy="156.78" r="2.05"/><circle cx="505.94" cy="156.78" r="2.05"/><circle cx="506.44" cy="156.78" r="2.05"/><circle cx="506.94" cy="156.78" r="2.05"/><circle cx="507.44" cy="156.78" r="2.05"/><circle cx="507.94" cy="156.77" r="2.05"/><circle cx="508.44" cy="156.77" r="2.05"/><circle cx="508.94" cy="156.77" r="2.05"/><circle cx="509.44" cy="156.77" r="2.05"/><circle cx="509.95" cy="156.76" r="2.05"/><circle cx="510.45" cy="156.76" r="2.05"/><circle cx="510.95" cy="156.76" r="2.05"/><circle cx="511.45" cy="156.75" r="2.05"/><circle cx="511.95" cy="156.75" r="2.05"/><circle cx="512.45" cy="156.75" r="2.05"/><circle cx="512.95" cy="156.74" r="2.05"/><circle cx="513.45" cy="156.74" r="2.05"/><circle cx="513.96" cy="156.74" r="2.05"/><circle cx="514.46" cy="156.73" r="2.05"/><circle cx="514.96" cy="156.73" r="2.05"/><circle cx="515.46" cy="156.73" r="2.05"/><circle cx="515.96" cy="156.72" r="2.05"/><circle cx="516.46" cy="156.72" r="2.05"/><circle cx="516.96" cy="156.71" r="2.05"/><circle cx="517.46" cy="156.71" r="2.05"/><circle cx="517.97" cy="156.71" r="2.05"/><circle cx="518.47" cy="156.7" r="2.05"/><circle cx="518.97" cy="156.7" r="2.05"/><circle cx="519.47" cy="156.69" r="2.05"/><circle cx="519.97" cy="156.69" r="2.05"/><circle cx="520.47" cy="156.68" r="2.05"/><circle cx="520.97" cy="156.68" r="2.05"/><circle cx="521.47" cy="156.67" r="2.05"/><circle cx="521.98" cy="156.67" r="2.05"/><circle cx="522.48" cy="156.66" r="2.05"/><circle cx="522.98" cy="156.66" r="2.05"/><circle cx="523.48" cy="156.65" r="2.05"/><circle cx="523.98" cy="156.65" r="2.05"/><circle cx="524.48" cy="156.64" r="2.05"/><circle cx="524.98" cy="156.64" r="2.05"/><circle cx="525.48" cy="156.63" r="2.05"/><circle cx="525.99" cy="156.63" r="2.05"/><circle cx="526.49" cy="156.62" r="2.05"/><circle cx="526.99" cy="156.62" r="2.05"/><circle cx="527.49" cy="156.61" r="2.05"/><circle cx="527.99" cy="156.6" r="2.05"/><circle cx="528.49" cy="156.6" r="2.05"/><circle cx="528.99" cy="156.59" r="2.05"/><circle cx="529.49" cy="156.59" r="2.05"/><circle cx="530" cy="156.58" r="2.05"/><circle cx="530.5" cy="156.57" r="2.05"/><circle cx="531" cy="156.57" r="2.05"/><circle cx="531.5" cy="156.56" r="2.05"/></g>
<text x="325.6" y="166.1" font-size="12.1" fill="#262626" text-anchor="end">0</text>
<text x="325.6" y="136.8" font-size="12.1" fill="#262626" text-anchor="end">0.2</text>
<text x="325.6" y="107.5" font-size="12.1" fill="#262626" text-anchor="end">0.4</text>
<text x="325.6" y="78.2" font-size="12.1" fill="#262626" text-anchor="end">0.6</text>
<text x="325.6" y="48.9" font-size="12.1" fill="#262626" text-anchor="end">0.8</text>
<text x="325.6" y="19.6" font-size="12.1" fill="#262626" text-anchor="end">1</text>
<text x="331" y="176.2" font-size="12.1" fill="#262626" text-anchor="middle">5</text>
<text x="381.12" y="176.2" font-size="12.1" fill="#262626" text-anchor="middle">10</text>
<text x="431.25" y="176.2" font-size="12.1" fill="#262626" text-anchor="middle">15</text>
<text x="481.38" y="176.2" font-size="12.1" fill="#262626" text-anchor="middle">20</text>
<text x="531.5" y="176.2" font-size="12.1" fill="#262626" text-anchor="middle">25</text>
<text x="431.25" y="189.6" font-size="12.2" font-weight="bold" fill="#262626" text-anchor="middle">Frequency [THz]</text>
<text transform="translate(300.3 88) rotate(-90)" font-size="12" font-weight="bold" fill="#262626" text-anchor="middle">Absorptance</text>
<text x="338.2" y="31.3" font-size="19.3" fill="#000">(c)</text>
<rect x="460" y="21.1" width="84" height="38" fill="#fff" stroke="#000" stroke-width="2.3"/>
<line x1="461.4" y1="28.3" x2="476.7" y2="28.3" stroke="#d40000" stroke-width="2"/>
<line x1="461.4" y1="40.1" x2="476.7" y2="40.1" stroke="#1f3fff" stroke-width="2"/>
<circle cx="469" cy="52.3" r="2.05" fill="#000"/>
<text x="477.5" y="31.3" font-size="9.3" fill="#000">HfO [<tspan font-family="Liberation Serif" font-style="italic" font-size="8.3" fill="#444">&#x3F5;</tspan>=25]</text>
<text x="477.5" y="43.6" font-size="9.3" fill="#000">SiO [<tspan font-family="Liberation Serif" font-style="italic" font-size="8.3" fill="#444">&#x3F5;</tspan>=4]</text>
<text x="477.5" y="55.8" font-size="9.3" fill="#000">Air [<tspan font-family="Liberation Serif" font-style="italic" font-size="8.3" fill="#444">&#x3F5;</tspan>=1]</text>
<path d="M53.1 207.8 V358.4 H253.7" fill="none" stroke="#262626" stroke-width="2" stroke-linecap="square"/>
<path d="M53.1 358.4 h2.5 M53.1 320.75 h2.5 M53.1 283.1 h2.5 M53.1 245.45 h2.5 M53.1 207.8 h2.5 M53.1 358.4 v-2.5 M119.97 358.4 v-2.5 M186.83 358.4 v-2.5 M253.7 358.4 v-2.5 " stroke="#262626" stroke-width="2" fill="none"/>
<path d="M53.1 325.4 L53.68 325.4 L54.27 325.39 L54.85 325.39 L55.43 325.39 L56.01 325.38 L56.6 325.38 L57.18 325.38 L57.76 325.37 L58.34 325.37 L58.93 325.36 L59.51 325.35 L60.09 325.35 L60.68 325.33 L61.26 325.32 L61.84 325.3 L62.42 325.28 L63.01 325.24 L63.59 325.2 L64.17 325.14 L64.76 325.07 L65.34 324.96 L65.92 324.83 L66.5 324.65 L67.09 324.42 L67.67 324.11 L68.25 323.72 L68.83 323.21 L69.42 322.55 L70 321.7 L70 321.7 L70.1 321.53 L70.2 321.36 L70.3 321.18 L70.4 320.99 L70.5 320.79 L70.6 320.59 L70.7 320.37 L70.8 320.15 L70.9 319.92 L71.01 319.68 L71.11 319.43 L71.21 319.17 L71.31 318.9 L71.41 318.62 L71.51 318.32 L71.61 318.02 L71.71 317.7 L71.81 317.38 L71.91 317.04 L72.01 316.68 L72.11 316.32 L72.21 315.94 L72.31 315.55 L72.41 315.14 L72.51 314.71 L72.61 314.28 L72.71 313.82 L72.81 313.35 L72.91 312.86 L73.02 312.36 L73.12 311.84 L73.22 311.3 L73.32 310.74 L73.42 310.16 L73.52 309.57 L73.62 308.95 L73.72 308.31 L73.82 307.66 L73.92 306.98 L74.02 306.28 L74.12 305.56 L74.22 304.81 L74.32 304.04 L74.42 303.25 L74.52 302.44 L74.62 301.6 L74.72 300.74 L74.82 299.85 L74.92 298.93 L75.03 297.99 L75.13 297.03 L75.23 296.04 L75.33 295.02 L75.43 293.98 L75.53 292.91 L75.63 291.81 L75.73 290.69 L75.83 289.53 L75.93 288.36 L76.03 287.15 L76.13 285.92 L76.23 284.66 L76.33 283.37 L76.43 282.06 L76.53 280.72 L76.63 279.36 L76.73 277.97 L76.83 276.56 L76.93 275.12 L77.04 273.67 L77.14 272.19 L77.24 270.68 L77.34 269.16 L77.44 267.63 L77.54 266.07 L77.64 264.5 L77.74 262.92 L77.84 261.33 L77.94 259.73 L78.04 258.13 L78.14 256.52 L78.24 254.92 L78.34 253.32 L78.44 251.72 L78.54 250.15 L78.64 248.59 L78.74 247.06 L78.84 245.56 L78.94 244.1 L79.05 242.7 L79.15 241.36 L79.25 240.1 L79.35 238.94 L79.45 237.93 L79.55 237.12 L79.65 237.1 L79.75 237.89 L79.85 238.89 L79.95 240.04 L80.05 241.3 L80.15 242.64 L80.25 244.04 L80.35 245.49 L80.45 246.99 L80.55 248.52 L80.65 250.07 L80.75 251.65 L80.85 253.24 L80.95 254.84 L81.06 256.44 L81.16 258.05 L81.26 259.65 L81.36 261.25 L81.46 262.84 L81.56 264.42 L81.66 265.99 L81.76 267.54 L81.86 269.08 L81.96 270.6 L82.06 272.1 L82.16 273.58 L82.26 275.04 L82.36 276.48 L82.46 277.89 L82.56 279.28 L82.66 280.64 L82.76 281.98 L82.86 283.29 L82.96 284.58 L83.07 285.84 L83.17 287.07 L83.27 288.27 L83.37 289.45 L83.47 290.6 L83.57 291.73 L83.67 292.83 L83.77 293.9 L83.87 294.94 L83.97 295.96 L84.07 296.95 L84.17 297.91 L84.27 298.85 L84.37 299.77 L84.47 300.65 L84.57 301.52 L84.67 302.36 L84.77 303.17 L84.87 303.96 L84.97 304.73 L85.08 305.25 L85.18 305.97 L85.28 306.68 L85.38 307.36 L85.48 308.01 L85.58 308.65 L85.68 309.27 L85.78 309.87 L85.88 310.45 L85.98 311.01 L86.08 311.55 L86.18 312.07 L86.28 312.58 L86.38 313.07 L86.48 313.54 L86.58 314 L86.68 314.44 L86.78 314.86 L86.88 315.27 L86.98 315.67 L87.09 316.05 L87.19 316.42 L87.29 316.78 L87.39 317.12 L87.49 317.45 L87.59 317.77 L87.69 318.07 L87.79 318.37 L87.89 318.65 L87.99 318.93 L88.09 319.19 L88.19 319.44 L88.29 319.69 L88.39 319.92 L88.49 320.14 L88.59 320.36 L88.69 320.57 L88.79 320.77 L88.89 320.96 L88.99 321.15 L89.1 321.33 L89.2 321.5 L89.3 321.66 L89.4 321.82 L89.5 321.97 L89.6 322.11 L89.7 322.25 L89.8 322.39 L89.9 322.52 L90 322.64 L90 322.64 L91.1 323.7 L92.2 324.38 L93.3 324.82 L94.39 325.11 L95.49 325.31 L96.59 325.47 L97.69 325.6 L98.79 325.73 L99.89 325.84 L100.99 325.96 L102.09 326.09 L103.18 326.22 L104.28 326.35 L105.38 326.49 L106.48 326.63 L107.58 326.79 L108.68 326.94 L109.78 327.11 L110.87 327.28 L111.97 327.45 L113.07 327.63 L114.17 327.82 L115.27 328.01 L116.37 328.21 L117.47 328.42 L118.57 328.62 L119.66 328.84 L120.76 329.06 L121.86 329.28 L122.96 329.51 L124.06 329.75 L125.16 329.98 L126.26 330.23 L127.35 330.48 L128.45 330.73 L129.55 330.99 L130.65 331.25 L131.75 331.51 L132.85 331.78 L133.95 332.06 L135.04 332.34 L136.14 332.62 L137.24 332.9 L138.34 333.19 L139.44 333.49 L140.54 333.78 L141.64 334.08 L142.74 334.39 L143.83 334.7 L144.93 335.01 L146.03 335.32 L147.13 335.64 L148.23 335.95 L149.33 336.28 L150.43 336.6 L151.52 336.93 L152.62 337.26 L153.72 337.59 L154.82 337.93 L155.92 338.27 L157.02 338.6 L158.12 338.95 L159.22 339.29 L160.31 339.64 L161.41 339.98 L162.51 340.33 L163.61 340.69 L164.71 341.04 L165.81 341.39 L166.91 341.75 L168 342.11 L169.1 342.47 L170.2 342.82 L171.3 343.19 L172.4 343.55 L173.5 343.91 L174.6 344.27 L175.7 344.64 L176.79 345 L177.89 345.37 L178.99 345.74 L180.09 346.1 L181.19 346.47 L182.29 346.84 L183.39 347.2 L184.48 347.57 L185.58 347.94 L186.68 348.31 L187.78 348.67 L188.88 349.04 L189.98 349.41 L191.08 349.77 L192.18 350.14 L193.27 350.5 L194.37 350.86 L195.47 351.23 L196.57 351.59 L197.67 351.95 L198.77 352.31 L199.87 352.67 L200.96 353.03 L202.06 353.38 L203.16 353.74 L204.26 354.09 L205.36 354.44 L206.46 354.79 L207.56 355.14 L208.66 355.48 L209.75 355.83 L210.85 356.17 L211.95 356.5 L213.05 356.83 L214.15 357.14 L215.25 357.44 L216.35 357.7 L217.44 357.93 L218.54 358.1 L219.64 358.22 L220.74 358.3 L221.84 358.34 L222.94 358.37 L224.04 358.38 L225.13 358.39 L226.23 358.39 L227.33 358.4 L228.43 358.4 L229.53 358.4 L230.63 358.4 L231.73 358.4 L232.83 358.4 L233.92 358.4 L235.02 358.4 L236.12 358.4 L237.22 358.4 L238.32 358.4 L239.42 358.4 L240.52 358.4 L241.61 358.4 L242.71 358.4 L243.81 358.4 L244.91 358.4 L246.01 358.4 L247.11 358.4 L248.21 358.4 L249.31 358.4 L250.4 358.4 L251.5 358.4 L252.6 358.4 L253.7 358.4" fill="none" stroke="#2d690b" stroke-width="2" stroke-linejoin="round"/>
<text x="47.8" y="362.9" font-size="12.6" fill="#262626" text-anchor="end">0</text>
<text x="47.8" y="325.25" font-size="12.6" fill="#262626" text-anchor="end">500</text>
<text x="47.8" y="287.6" font-size="12.6" fill="#262626" text-anchor="end">1000</text>
<text x="47.8" y="249.95" font-size="12.6" fill="#262626" text-anchor="end">1500</text>
<text x="47.8" y="212.3" font-size="12.6" fill="#262626" text-anchor="end">2000</text>
<text x="53.1" y="373.3" font-size="12.6" fill="#262626" text-anchor="middle">0</text>
<text x="119.97" y="373.3" font-size="12.6" fill="#262626" text-anchor="middle">0.5</text>
<text x="186.83" y="373.3" font-size="12.6" fill="#262626" text-anchor="middle">1</text>
<text x="253.7" y="373.3" font-size="12.6" fill="#262626" text-anchor="middle">1.5</text>
<text transform="translate(9.6 282.9) rotate(-90)" font-size="12.85" font-weight="bold" fill="#262626" text-anchor="middle">Electric field norm</text>
<text x="62.5" y="219.5" font-size="18.9" fill="#000">(d)</text>
<path d="M331.1 207.8 V358.1 H542.8" fill="none" stroke="#262626" stroke-width="2" stroke-linecap="square"/>
<path d="M331.1 358.1 h2.5 M331.1 308 h2.5 M331.1 257.9 h2.5 M331.1 207.8 h2.5 M331.1 358.1 v-2.5 M401.67 358.1 v-2.5 M472.23 358.1 v-2.5 M542.8 358.1 v-2.5 " stroke="#262626" stroke-width="2" fill="none"/>
<path d="M331.1 337.1 L341.6 336.85 L350.7 336.6 L355 336.35 L357 336.1 L358.6 335.7 L359.3 335.3 L359.7 333 L359.95 331.6 L360.3 333.5 L361.1 338.1 L362 340.8 L362.9 342.6 L364 343.9 L365 344.2 L366 343.8 L367 342.9 L368 341.76 L369.11 340.23 L370.23 338.69 L371.34 337.13 L372.45 335.56 L373.57 333.99 L374.68 332.4 L375.79 330.81 L376.91 329.2 L378.02 327.59 L379.13 325.97 L380.25 324.35 L381.36 322.72 L382.47 321.09 L383.59 319.45 L384.7 317.81 L385.82 316.16 L386.93 314.52 L388.04 312.87 L389.16 311.22 L390.27 309.58 L391.38 307.93 L392.5 306.28 L393.61 304.64 L394.72 303 L395.84 301.36 L396.95 299.73 L398.06 298.1 L399.18 296.47 L400.29 294.85 L401.4 293.23 L402.52 291.62 L403.63 290.02 L404.74 288.43 L405.86 286.84 L406.97 285.26 L408.08 283.69 L409.2 282.13 L410.31 280.58 L411.42 279.04 L412.54 277.51 L413.65 275.99 L414.76 274.49 L415.88 272.99 L416.99 271.51 L418.11 270.04 L419.22 268.58 L420.33 267.14 L421.45 265.71 L422.56 264.29 L423.67 262.89 L424.79 261.51 L425.9 260.14 L427.01 258.78 L428.13 257.44 L429.24 256.12 L430.35 254.81 L431.47 253.53 L432.58 252.25 L433.69 251 L434.81 249.76 L435.92 248.54 L437.03 247.34 L438.15 246.16 L439.26 245 L440.37 243.85 L441.49 242.73 L442.6 241.62 L443.71 240.54 L444.83 239.47 L445.94 238.42 L447.05 237.4 L448.17 236.39 L449.28 235.4 L450.39 234.44 L451.51 233.49 L452.62 232.57 L453.74 231.66 L454.85 230.78 L455.96 229.92 L457.08 229.08 L458.19 228.26 L459.3 227.46 L460.42 226.68 L461.53 225.93 L462.64 225.2 L463.76 224.48 L464.87 223.79 L465.98 223.12 L467.1 222.48 L468.21 221.85 L469.32 221.24 L470.44 220.66 L471.55 220.1 L472.66 219.56 L473.78 219.04 L474.89 218.54 L476 218.06 L477.12 217.61 L478.23 217.17 L479.34 216.76 L480.46 216.37 L481.57 215.99 L482.68 215.64 L483.8 215.31 L484.91 215 L486.03 214.71 L487.14 214.44 L488.25 214.19 L489.37 213.96 L490.48 213.74 L491.59 213.55 L492.71 213.38 L493.82 213.22 L494.93 213.09 L496.05 212.97 L497.16 212.87 L498.27 212.79 L499.39 212.73 L500.5 212.68 L500.52 213.31 L500.64 218.21 L500.77 222.95 L500.89 227.53 L501.02 231.95 L501.14 236.23 L501.26 240.35 L501.39 244.34 L501.51 248.2 L501.64 251.92 L501.76 255.52 L501.89 258.99 L502.01 262.35 L502.13 265.59 L502.26 268.72 L502.38 271.75 L502.51 274.67 L502.63 277.5 L502.75 280.23 L502.88 282.86 L503 285.41 L503.13 287.87 L503.25 290.25 L503.38 292.55 L503.5 294.77 L503.7 298.18 L504.19 305.87 L504.69 312.56 L505.18 318.4 L505.68 323.49 L506.17 327.92 L506.67 331.78 L507.16 335.15 L507.66 338.09 L508.15 340.64 L508.65 342.87 L509.14 344.82 L509.64 346.51 L510.13 347.99 L510.63 349.27 L511.12 350.39 L511.62 351.37 L512.11 352.22 L512.61 352.96 L513.1 353.61 L513.6 354.17 L514.09 354.67 L514.59 355.09 L515.08 355.47 L515.58 355.79 L516.07 356.08 L516.57 356.32 L517.06 356.54 L517.56 356.73 L518.05 356.89 L518.55 357.03 L519.04 357.16 L519.54 357.27 L520.03 357.36 L520.53 357.44 L521.02 357.51 L521.52 357.58 L522.01 357.63 L522.51 357.68 L523 357.72 L523.5 357.76 L523.99 357.79 L524.49 357.81 L524.98 357.84 L525.48 357.86 L525.97 357.88 L526.47 357.89 L526.96 357.91 L527.46 357.92 L527.95 357.93 L528.45 357.94 L528.94 357.95 L529.44 357.95 L529.93 357.96 L530.43 357.96 L530.92 357.97 L531.42 357.97 L531.91 357.98 L532.41 357.98 L532.9 357.98 L533.4 357.98 L533.89 357.99 L534.39 357.99 L534.88 357.99 L535.38 357.99 L535.87 357.99 L536.37 357.99 L536.86 357.99 L537.36 357.99 L537.85 358 L538.35 358 L538.84 358 L539.34 358 L539.83 358 L540.33 358 L540.82 358 L541.32 358 L541.81 358 L542.31 358 L542.8 358" fill="none" stroke="#0000ff" stroke-width="2" stroke-linejoin="round"/>
<text x="325.6" y="362.7" font-size="12.6" fill="#262626" text-anchor="end">0</text>
<text x="325.6" y="312.6" font-size="12.6" fill="#262626" text-anchor="end">2</text>
<text x="325.6" y="262.5" font-size="12.6" fill="#262626" text-anchor="end">4</text>
<text x="325.6" y="212.4" font-size="12.6" fill="#262626" text-anchor="end">6</text>
<text x="331.1" y="373.3" font-size="12.6" fill="#262626" text-anchor="middle">0</text>
<text x="401.67" y="373.3" font-size="12.6" fill="#262626" text-anchor="middle">0.5</text>
<text x="472.23" y="373.3" font-size="12.6" fill="#262626" text-anchor="middle">1</text>
<text x="542.8" y="373.3" font-size="12.6" fill="#262626" text-anchor="middle">1.5</text>
<text transform="translate(309.0 282.6) rotate(-90)" font-size="12.95" font-weight="bold" fill="#262626" text-anchor="middle">Magnetic field norm</text>
<text x="340" y="219.5" font-size="18.9" fill="#000">(e)</text>
</svg>
</body></html>
